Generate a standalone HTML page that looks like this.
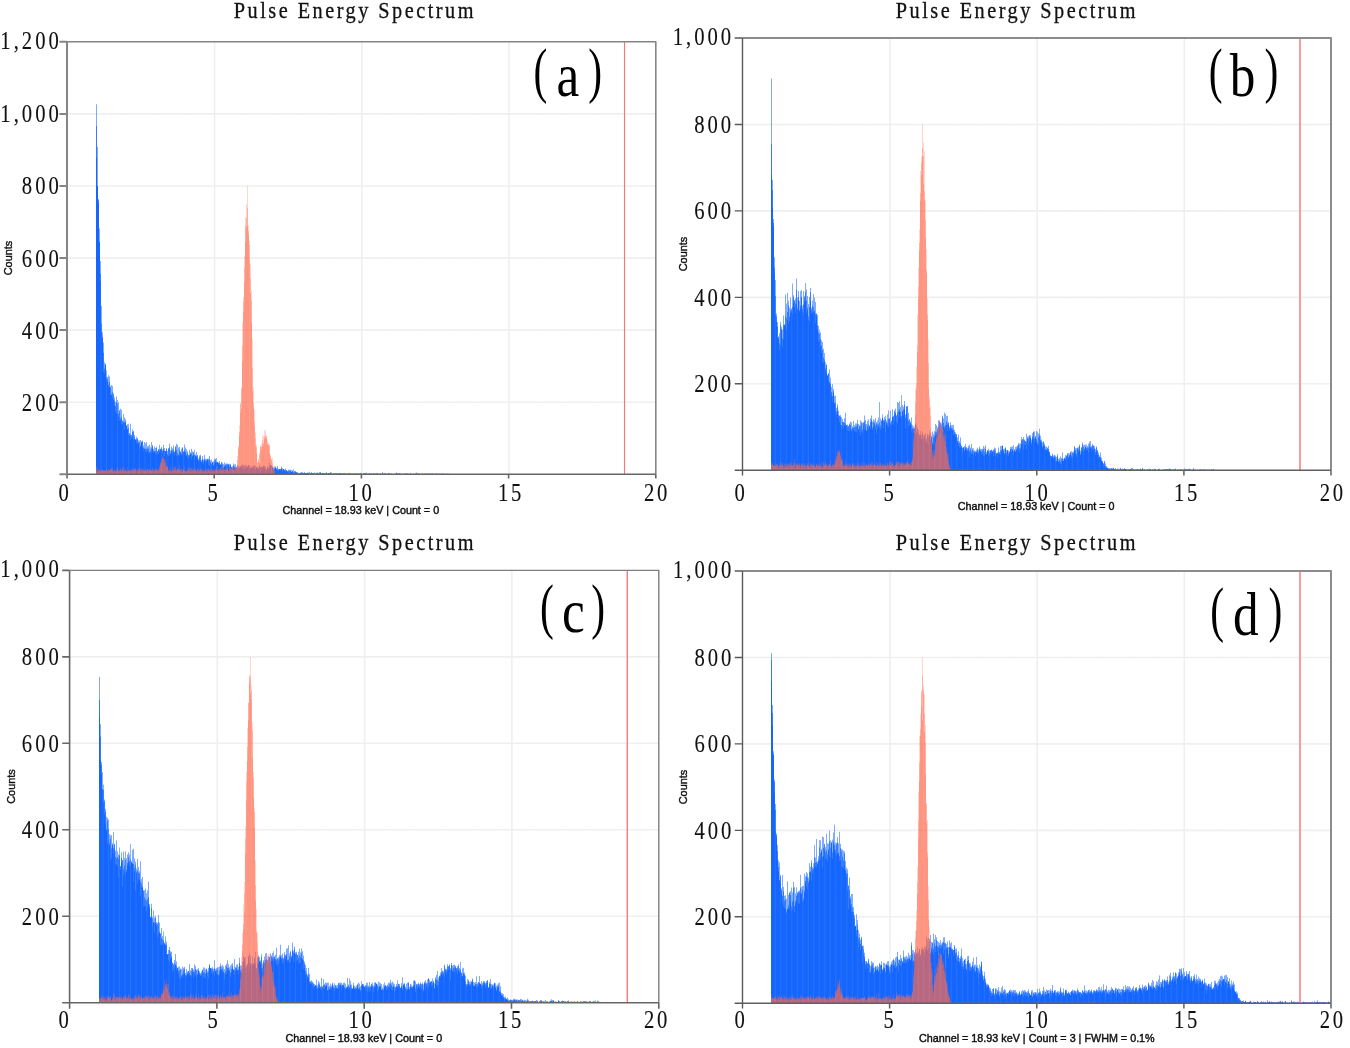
<!DOCTYPE html>
<html lang="en">
<head>
<meta charset="utf-8">
<title>Pulse Energy Spectrum</title>
<style>
html,body{margin:0;padding:0;background:#fff;}
body{width:1350px;height:1048px;overflow:hidden;}
svg{display:block;}
text{white-space:pre;}
</style>
</head>
<body>
<svg width="1350" height="1048" viewBox="0 0 1350 1048" role="img" aria-label="Pulse energy spectra, panels a to d">
<rect width="1350" height="1048" fill="#fff"/>
<g id="panel-a">
<path d="M214.6,41.8V474.3M361.8,41.8V474.3M509.0,41.8V474.3M67.0,402.2H655.8M67.0,330.1H655.8M67.0,258.1H655.8M67.0,186.0H655.8M67.0,113.9H655.8" stroke="#efefef" stroke-width="1.6" fill="none"/>
<path d="M96,474.3V104.2h1V146.7h1V198.9h1V228.5h1V260.9h1V306h1V332.3h1V342.4h1V362.6h1V363.7h1V370.5h1V377h1V375.2h1V376.6h1V386h1V384.9h1V386h1V393.2h1V397.5h1V401.9h1V396.5h1V400.1h1V402.2h1V410.1h1V408.7h1V409.8h1V420.2h1V414.1h1V417.4h1V419.2h1V424.9h1V424.2h1V423.8h1V433.2h1V423.8h1V434.7h1V429.6h1V431h1V435h1V439h1V436.8h1V437.9h1V440.4h2V440.1h1V441.5h1V440.4h1V445.5h1V441.9h1V443.3h1V441.9h1V446.2h1V445.8h1V444.7h1V447.3h1V441.9h1V445.1h1V448.7h1V446.5h1V448h1V446.5h1V451.2h1V449.1h1V444.7h1V448.7h1V446.9h1V449.4h1V444.7h1V448h1V450.9h1V448h1V450.9h1V448.4h1V443.7h1V450.2h1V446.5h1V448h1V445.5h1V451.6h1V446.2h1V443.7h1V444.7h1V447.6h1V446.9h1V451.2h1V448.7h1V447.3h1V451.2h1V444.4h1V447.6h1V449.1h1V451.2h1V454.8h1V449.8h1V452.3h1V448.7h1V451.2h1V452h1V449.8h1V454.5h1V452h1V455.2h1V458.4h1V455.6h1V454.8h1V460.2h1V455.9h1V459.5h1V454.8h1V458.8h3V458.4h1V455.9h1V459.9h1V459.5h1V462h1V461.3h1V458.8h2V458.1h1V462h1V462.8h1V461h1V464.2h1V461.7h1V462.8h1V464.2h1V462.4h1V463.8h1V463.5h2V463.8h2V464.6h1V467.1h1V466h1V463.5h1V464.6h1V464.2h1V466.7h1V464.9h1V465.3h1V466.4h1V466h1V465.6h1V463.8h1V464.9h1V465.3h1V464.9h1V465.3h1V466h1V464.9h2V467.8h1V466.7h1V466.4h1V465.3h2V465.6h1V467.1h1V466.4h1V467.8h1V464.9h1V467.1h1V466.7h1V466.4h1V465.6h1V466h1V466.4h1V468.9h1V466h1V467.5h1V463.1h1V464.9h1V465.3h1V466.4h1V467.8h1V466.4h2V467.8h1V466h1V468.9h3V466.4h1V468.2h1V468.9h1V469.6h1V468.5h1V470.3h1V470.7h1V469.6h1V470.3h1V469.6h1V470.3h2V469.6h1V471.1h1V471.4h1V472.1h2V472.9h2V472.5h2V472.1h1V472.9h1V472.1h1V472.9h2V472.5h2V471.8h1V472.9h1V472.1h1V472.9h2V472.5h1V473.2h1V472.5h2V472.9h1V472.1h2V473.2h2V472.9h3V472.1h1V473.2h2V472.9h1V472.1h1V472.5h1V473.6h1V473.2h1V472.9h2V473.2h3V472.9h2V473.2h1V473.6h1V473.2h1V472.9h1V473.6h2V473.2h4V473.6h1V473.2h2V473.6h2V473.2h1V473.6h1V473.2h1V473.6h1V473.2h1V473.6h1V473.9h1V473.2h1V472.9h2V472.5h1V473.6h1V473.2h1V472.9h1V473.6h2V473.9h1V473.6h3V472.9h1V473.6h2V473.9h1V473.2h1V473.9h1V472.1h1V473.6h1V473.2h1V472.9h1V473.9h1V473.6h1V473.2h1V472.9h1V473.9h1V473.2h1V473.9h3V473.2h1V472.5h1V473.2h1V473.6h1V473.2h1V473.6h1V473.9h3V473.6h2V472.9h1V473.2h1V473.9h2V473.2h1V473.9h2V473.6h1V473.9h1V473.6h1V472.5h1V473.2h2V473.6h1V474.3h1V473.9h3V473.2h1V473.9h1V473.2h1V473.9h1V473.6h4V473.2h1V473.9h2V473.2h1V473.6h1V473.9h1V473.6h1V473.9h2V473.6h3V473.9h3V473.6h1V473.9h1V474.3Z" fill="#1466ff" fill-opacity="0.550"/>
<path d="M96,474.3V126.1h1V186h1V200.6h1V241.8h1V273.5h1V323.6h1V337.3h1V352.7h1V368.7h1V364.4h1V377h1V379.2h1V384.4h1V382h1V387.4h1V394.1h1V391.8h1V394.8h1V400.8h1V406.2h1V402.4h1V403.7h1V413.8h1V411.2h1V418.4h1V416.8h1V421h1V421.7h1V422h1V421.3h1V426.2h1V429.2h1V427.6h1V433.6h1V435h1V435.4h1V432.1h1V431.6h1V436.8h1V439.7h1V439.2h1V439.3h1V442.4h1V442.2h1V445.5h1V442.4h1V441.5h1V447.8h1V448.4h2V448.9h1V448.4h2V452h1V450.5h1V448.5h1V446.2h1V451.1h1V451.2h1V450.9h1V448h1V451.2h1V449.4h1V450.3h1V449.1h1V447.8h1V450.9h1V448.7h1V450.9h2V448.9h1V454.5h1V448.4h1V447.4h1V453.4h1V450.2h2V449.4h1V452h1V447.3h1V450h1V452.7h1V454.5h1V450.3h1V452h1V452.9h1V448h1V451.6h1V450.3h1V451.6h1V454.8h1V452.7h1V455.2h1V455h1V453.4h2V455.6h1V452.7h1V455h1V455.6h1V456.6h1V455.6h1V460.2h1V457.2h1V456.6h1V461.7h1V459.2h1V461.7h1V459.3h1V460.2h1V460.8h1V459.2h1V460.6h1V459.5h1V462.4h1V463.8h1V462.4h1V464.9h1V461.5h1V459.9h1V461.7h1V462h1V462.8h1V463.1h1V464.6h1V462.8h1V464.2h1V467.5h1V465.5h1V465.3h1V464.6h1V464.2h1V464.6h1V466.6h1V464.6h1V467.1h1V468h1V465.6h1V467.3h1V467.8h1V467.5h1V468.2h1V467.1h1V467.8h1V466.4h1V467.5h1V465.8h1V465.6h1V466.7h1V467.8h1V467.5h1V467.6h1V465.3h1V465.5h1V467.8h1V467.5h2V467.1h1V466.4h1V469.3h1V467.8h1V468.2h2V466.6h1V467.1h1V466.7h1V468h1V466.4h1V466.7h1V467.8h1V470h1V466.9h1V467.8h1V466.6h1V465.3h1V465.6h1V467.6h1V468.9h1V468.7h1V467.8h1V469.3h1V468.5h1V469.6h1V469.3h1V468.9h1V468.2h1V469.6h1V468.9h1V470.3h1V470.2h1V470.3h1V471.2h1V470.7h1V470.3h1V471.1h1V472.1h1V470.9h1V472.1h1V472.5h1V471.6h1V472.5h1V473h1V473.2h1V473.6h1V472.9h1V472.5h1V473.4h1V472.9h1V473.2h1V472.9h2V473h1V473.2h1V473.9h1V473.4h1V473.2h3V473.6h1V473.8h1V473.6h3V473.9h1V472.7h1V473.2h2V473.6h1V473.2h1V473.9h1V473.2h1V473.9h1V473.2h2V473.6h2V473.9h1V473.6h2V473.9h1V473.2h1V473.8h1V473.6h2V473.4h1V473.9h1V473.6h1V473.8h1V473.2h1V474.1h1V473.9h2V473.6h1V473.9h1V473.6h1V473.9h3V473.6h1V473.8h1V473.6h1V474.3h1V474.1h1V473.9h1V473.6h2V474.3h1V473.4h1V473.2h2V473.9h3V473.6h1V473.9h1V473.6h1V473.9h1V473.8h1V473.6h1V474.1h1V473.9h1V473.6h1V473.9h2V473.6h1V473.9h1V473.6h1V474.1h1V473.6h1V473.9h1V474.3h1V473.9h1V473.8h1V473.6h1V473.9h2V474.3h1V473.9h1V474.3h1V473.9h1V473.2h1V473.9h1V473.8h1V473.6h1V473.8h1V474.3h1V473.9h4V473.8h1V473.9h1V474.3h1V473.9h3V474.3h1V473.9h2V473.6h1V473.8h1V473.9h2V474.3h3V473.9h1V474.3h1V473.9h2V473.6h1V474.3h1V474.1h1V474.3h1V473.9h1V473.8h1V474.3h3V473.9h2V474.3h1V474.1h1V473.9h2V473.6h1V473.9h2V474.3h1V473.9h4V474.3Z" fill="#1466ff" fill-opacity="0.700"/>
<path d="M96,474.3V157.9h1V186.7h1V203.3h1V242.6h1V281.5h1V332.3h1V338.4h1V372.3h1V373.7h1V365.8h1V379.2h1V382h1V387.1h1V387.4h1V395h1V395.4h1V397.9h1V400.4h1V405.8h1V411.2h1V414.1h1V412.7h1V417h1V420.6h2V424.6h1V424.2h1V423.1h1V430.3h1V422.8h1V426.4h1V429.2h1V435h1V436.1h1V440.4h1V437.5h1V438.3h1V439.7h1V439h1V440.1h1V442.9h1V443.7h1V444h1V448.7h1V446.5h1V442.6h1V447.6h1V450.5h1V449.1h1V450.9h1V452.3h1V451.2h1V453.4h2V451.2h1V453h1V448.4h1V452.7h1V452h1V453.8h1V453.4h1V454.5h1V454.1h1V452h1V450.2h2V453h1V450.2h1V455.9h1V452.3h1V450.9h1V454.8h1V456.6h1V455.6h1V454.1h1V452h1V453h1V452.3h1V455.6h1V450.5h1V455.6h1V456.3h1V455.6h2V453.4h1V455.6h1V454.8h1V452h1V452.3h1V455.2h1V456.6h1V457h1V458.4h1V456.6h1V454.5h1V459.2h1V456.6h1V455.2h1V459.2h1V455.9h1V457.4h1V459.2h1V461.3h1V459.9h1V460.2h1V462.4h1V459.5h1V464.2h1V459.9h1V462.4h1V461.3h1V459.9h1V464.9h1V466h1V463.1h1V466.4h1V462.4h1V466h1V463.8h1V462.4h2V463.1h1V463.5h1V464.9h3V466.4h1V468.2h1V466.7h1V466.4h1V467.5h1V465.6h2V469.6h1V465.6h1V467.5h1V468.9h1V467.1h1V468.5h1V470h1V467.8h1V469.6h1V468.5h2V467.5h1V467.8h1V468.9h1V469.6h1V468.5h1V469.3h1V467.8h2V469.3h1V468.5h1V468.2h1V470h1V468.5h3V469.6h1V468.2h1V470h1V470.3h1V468.9h1V467.8h1V470.3h1V468.2h1V467.5h1V468.9h1V469.3h1V470.3h1V470h1V468.9h1V470.3h1V465.3h1V466.7h1V468.2h1V470.7h1V469.3h1V467.8h1V469.6h1V470.3h1V471.4h1V469.6h1V471.1h1V469.3h1V471.4h1V469.3h1V470.7h1V472.5h1V471.4h2V472.5h1V472.9h1V471.8h1V472.1h1V471.8h1V473.2h1V472.9h1V471.8h1V472.9h1V473.6h1V473.9h2V473.2h1V472.9h1V473.9h1V473.2h1V473.6h1V472.9h1V473.6h2V473.2h1V473.9h1V473.6h1V473.9h1V473.6h1V474.3h2V473.9h2V473.6h1V473.9h1V474.3h1V473.2h1V474.3h1V473.6h1V473.9h2V474.3h1V473.6h1V474.3h1V473.6h2V473.9h2V474.3h1V473.9h2V474.3h1V473.9h2V474.3h1V473.6h1V473.9h3V474.3h1V473.9h1V474.3h1V473.9h1V474.3h1V473.6h1V474.3h1V473.9h5V474.3h5V473.9h1V474.3h2V473.9h3V474.3h1V473.9h1V474.3h1V473.9h1V474.3h3V473.9h2V474.3h2V473.9h2V474.3h1V473.9h1V474.3h3V473.9h1V474.3h2V473.9h1V474.3h1V473.9h1V474.3h1V473.9h1V474.3h1V473.9h1V474.3h1V473.9h1V473.6h1V473.9h3V474.3h5V473.9h1V474.3h3V473.9h1V474.3h5V473.9h1V474.3h8V473.9h3V474.3h4V473.9h1V474.3h15V473.9h1V474.3h1V474.3Z" fill="#1466ff"/>
<path d="M96,474.3V466h1V468.2h2V469.6h2V469.3h2V470.3h1V470h1V470.3h1V468.9h1V470.7h1V469.3h1V470h1V467.5h1V468.5h1V467.8h1V470.3h1V470h1V470.3h1V468.9h1V467.1h1V468.2h1V470h1V467.8h1V469.3h1V468.2h1V467.1h1V469.3h1V468.9h1V470.7h1V467.1h1V470h1V469.6h1V469.3h1V469.6h1V467.8h1V468.9h2V467.8h1V470h1V468.9h1V467.8h1V468.2h1V467.8h1V468.5h1V468.9h2V469.3h1V468.9h1V470h1V468.9h1V469.3h1V468.5h1V469.6h1V470h1V467.5h1V468.9h1V469.6h1V468.5h2V468.9h1V469.6h1V465.6h1V462.8h1V460.6h1V457.4h1V453h1V458.8h1V460.6h1V465.6h1V466.7h1V469.6h1V468.9h1V466.4h1V470.7h1V467.5h1V467.8h1V467.1h1V466h1V470h1V468.5h1V467.8h1V465.3h1V469.3h1V468.2h1V471.4h1V469.3h1V467.1h1V470.7h2V468.9h1V467.8h1V468.9h1V467.8h1V468.2h1V468.9h1V468.2h1V469.6h1V468.2h1V470.3h1V468.9h1V468.5h1V470h1V468.5h1V467.8h1V468.5h1V470h2V468.5h1V469.6h1V468.5h1V467.8h1V469.6h1V468.9h1V467.5h1V469.6h1V469.3h1V470h1V468.9h1V467.1h1V466h1V468.9h1V468.5h1V468.2h1V466.4h2V467.5h1V468.9h2V466.7h1V468.5h1V470.3h1V467.8h1V467.1h1V467.5h1V467.8h1V468.2h2V467.1h1V466.4h1V455.9h1V446.2h1V425.3h1V403.3h1V387.8h1V322.6h1V297.3h1V256.2h1V217.3h1V204.3h1V186h1V225.3h1V240.8h1V264.2h1V290.5h1V339.1h1V387.4h1V410.1h1V432.5h1V445.1h1V461.7h1V459.2h1V452.7h1V445.8h1V444h1V435.7h2V430h1V431h1V435.4h1V439.7h1V442.2h1V444.4h1V454.8h1V458.4h1V458.1h1V465.6h1V468.5h1V473.9h1V473.6h2V473.9h1V473.6h2V473.9h5V473.6h2V473.9h1V473.2h1V473.9h1V473.6h1V473.9h2V473.2h1V473.6h1V473.9h1V472.9h1V473.9h3V473.6h1V472.9h1V473.9h3V473.2h1V473.9h1V473.2h1V473.6h2V473.9h2V473.6h1V473.2h1V473.6h4V473.2h1V473.9h3V473.6h1V474.3h1V473.6h3V473.9h1V474.3h1V473.6h2V473.9h1V473.6h2V472.9h1V473.6h1V473.9h4V473.2h1V473.9h1V474.3h1V473.9h1V473.6h2V474.3h1V473.9h2V472.5h1V473.6h1V474.3h1V473.9h1V473.6h1V473.9h2V473.6h2V473.2h1V473.9h1V473.2h1V473.9h3V473.6h1V473.9h2V474.3h1V473.2h1V473.9h1V473.2h1V474.3h1V473.9h1V474.3h1V473.6h1V473.9h1V473.6h1V473.2h1V473.6h2V473.9h1V473.6h3V473.9h1V473.6h2V473.2h1V473.6h1V473.9h8V472.9h1V473.2h1V473.6h6V473.2h1V473.9h1V473.6h1V472.9h1V472.5h1V473.6h1V473.9h2V473.6h2V472.9h1V473.9h1V473.6h1V473.9h2V473.2h1V472.9h1V473.2h1V473.9h1V473.2h1V474.3h1V473.2h1V473.9h1V473.6h1V473.9h2V473.6h2V473.2h1V473.9h1V473.2h1V473.6h3V473.9h2V473.6h3V473.2h1V473.6h1V473.9h1V473.2h1V473.6h1V474.3Z" fill="rgb(255,104,76)" fill-opacity="0.280"/>
<path d="M96,474.3V469.3h1V471.4h1V470.9h1V470.3h1V471.4h1V471.1h1V470h1V470.7h1V470.3h1V470.7h1V469.1h1V471.1h1V469.8h1V470.3h1V468.9h1V469.6h2V471.4h1V470.3h1V470.7h2V470.3h1V470.7h1V470.3h1V469.3h1V470.9h1V470h1V468.9h1V470.7h1V470h1V470.9h1V470.7h1V471.1h1V470.3h3V470h1V470.3h1V469.6h1V468.9h1V471.1h1V470.3h1V469.3h1V469.6h1V471.1h1V470.2h1V469.3h1V470.3h1V471.1h1V470.3h2V469.3h1V470h1V470.3h1V470h1V470.5h1V470.3h1V469.4h1V470.7h1V469.6h1V470.3h2V469.6h1V467.5h1V462.8h1V462h1V458.1h1V458.4h1V460.1h1V462h1V466.2h1V467.1h1V470.3h2V470h1V472.1h1V471.1h1V470h1V468.2h1V468.9h1V470.3h1V468.5h1V469.6h1V469.3h1V470h1V469.6h1V471.4h1V469.3h1V469.6h1V471.1h1V470.9h1V469.6h1V468.5h1V471.2h1V468.5h1V469.3h1V470h1V468.5h1V470.3h1V469.6h1V471.1h1V469.3h1V468.5h1V470.9h1V468.9h1V470.9h1V470.7h2V470.9h1V470h1V470.7h1V469.6h2V470h1V470.7h1V470.3h1V470.7h1V470h1V470.5h1V469.6h1V469.3h1V470h2V469.6h1V468.2h1V470.3h1V469.1h1V469.6h1V469.8h1V469.6h1V468.2h1V469.6h1V470.7h1V468.2h1V467.8h1V468.5h1V468.2h1V469.3h1V470h1V467.8h1V467.1h1V459.9h1V446.9h1V432h1V403.7h1V388.2h1V345.8h1V301.3h1V267.6h1V226h1V218.4h1V207.8h1V231h1V245.3h1V278.2h1V301.3h1V368.2h1V402.9h1V421.5h1V437.9h1V447.3h1V462.6h1V459.5h1V454.7h1V446.5h1V446.9h1V440.4h1V442.9h1V436.5h1V435.7h2V442.9h1V444.7h1V445.5h1V455.9h1V459.5h1V463.3h1V469.3h1V471.1h1V474.3h1V473.9h1V474.1h1V474.3h1V474.1h1V473.9h1V474.3h1V474.1h1V473.9h2V474.3h1V473.9h3V473.6h1V473.9h1V473.6h1V474.1h1V473.9h1V473.6h1V473.9h1V474.3h1V474.1h1V474.3h2V473.9h2V474.1h1V474.3h2V474.1h1V473.9h1V474.1h1V474.3h1V473.9h1V473.8h1V474.3h1V474.1h1V474.3h1V473.9h1V473.8h1V473.6h1V473.9h1V474.3h1V473.9h2V474.3h2V473.6h1V474.3h1V474.1h1V473.9h1V474.3h1V473.9h1V474.3h1V474.1h1V474.3h1V474.1h1V473.6h1V473.9h1V473.8h1V473.9h1V474.1h1V474.3h2V473.9h1V473.2h1V473.9h1V474.3h2V473.9h2V474.3h1V474.1h1V473.9h1V473.8h1V473.9h1V474.3h1V473.9h1V473.6h1V474.3h2V473.9h1V473.8h1V473.9h1V474.1h1V473.9h2V474.1h1V473.9h1V474.3h1V473.9h2V474.3h2V474.1h1V473.9h1V474.3h1V473.9h1V474.3h1V473.8h1V474.3h1V473.6h1V474.1h1V473.9h1V473.8h1V473.9h2V474.3h1V473.6h1V474.3h2V473.9h2V474.3h1V474.1h1V474.3h1V473.9h1V474.3h2V474.1h1V473.9h1V474.3h1V473.9h1V474.3h1V474.1h1V473.9h1V473.6h1V473.9h2V474.3h1V473.9h2V473.6h2V473.9h1V474.1h1V474.3h1V473.9h1V474.3h1V473.9h7V473.6h1V473.9h1V474.3h1V473.9h1V474.3h1V473.9h1V474.1h1V473.9h1V474.3h2V473.9h2V474.3h2V473.9h2V473.6h1V474.3h1V473.9h5V474.3h1V473.9h4V474.3Z" fill="rgb(255,104,76)" fill-opacity="0.333"/>
<path d="M96,474.3V471.1h1V471.4h1V471.1h1V470.7h1V472.1h1V471.1h1V470.3h1V471.1h3V473.6h1V471.4h1V470.7h1V470.3h1V470h1V470.3h1V471.1h1V472.1h1V470.7h1V471.8h1V471.1h1V471.4h3V470h1V472.1h1V470.3h1V471.8h1V471.4h1V470.3h1V471.4h1V471.1h1V471.8h1V471.4h1V470.7h1V471.8h1V470.3h1V471.4h1V470.7h1V470h1V473.2h1V472.1h1V470.3h1V470h1V471.4h1V473.2h1V470.3h1V471.8h1V471.4h1V471.1h1V471.4h1V469.3h1V472.5h1V470.3h1V471.1h1V470.7h1V470.3h1V472.5h1V471.1h1V471.4h1V470.7h1V471.1h1V471.4h1V468.9h1V465.6h1V463.5h1V458.4h1V458.8h1V463.1h1V465.6h1V467.5h2V471.4h2V470h1V472.5h1V471.4h1V470.3h1V470.7h1V470h1V471.1h1V470h2V470.3h1V470.7h1V471.8h2V469.6h1V471.1h1V471.8h2V471.1h1V471.4h1V471.8h1V471.4h1V472.1h1V471.1h1V472.9h1V471.8h1V470.3h1V471.4h2V472.5h1V472.1h1V470.3h1V471.8h1V472.1h1V471.1h1V472.5h1V471.8h3V471.1h1V471.4h1V471.8h1V472.1h1V471.1h1V471.8h1V472.1h1V470.7h1V470.3h1V470.7h1V471.1h1V472.1h1V470h1V470.7h1V471.8h1V469.6h1V471.4h1V470h1V469.6h1V470h1V470.7h1V471.1h1V468.9h1V470.3h1V469.6h1V470.7h1V470.3h1V468.5h1V468.9h1V467.8h1V449.1h1V435.7h1V412.7h1V408.7h1V361.5h1V312.5h1V282.6h1V241.8h1V227.8h1V225.6h1V235.3h1V260.6h1V293.7h1V322.9h1V391h1V408.3h1V426.4h1V445.5h1V453.4h1V467.8h1V462.4h1V463.1h1V446.9h1V450.2h1V444.4h1V445.5h1V439h1V437.5h1V438.6h1V444.4h1V445.5h1V454.1h1V458.1h1V461h1V469.3h1V470.7h1V473.9h1V474.3h8V473.9h1V474.3h3V473.9h1V474.3h5V473.9h2V474.3h15V473.9h1V474.3h6V473.9h1V474.3h1V473.9h1V474.3h3V473.9h1V474.3h2V473.9h1V474.3h9V473.9h1V474.3h4V473.6h1V473.9h1V474.3h2V473.9h2V474.3h6V473.9h2V474.3h4V473.9h1V474.3h1V473.9h1V474.3h9V473.9h1V474.3h10V473.9h1V474.3h1V473.9h1V474.3h16V473.9h1V474.3h6V473.9h1V474.3h1V473.9h1V474.3h4V473.9h1V474.3h9V473.9h1V474.3h1V473.9h1V474.3h13V473.9h1V474.3h6V473.9h1V474.3h1V474.3Z" fill="rgb(255,104,76)" fill-opacity="0.375"/>
<path d="M101.0,42.8V473.8M106.5,42.8V473.8M112.0,42.8V473.8M117.5,42.8V473.8M123.0,42.8V473.8M128.5,42.8V473.8M134.0,42.8V473.8M139.5,42.8V473.8M145.0,42.8V473.8M150.5,42.8V473.8M156.0,42.8V473.8M161.5,42.8V473.8M167.0,42.8V473.8M172.5,42.8V473.8M178.0,42.8V473.8M183.5,42.8V473.8M189.0,42.8V473.8M194.5,42.8V473.8M200.0,42.8V473.8M205.5,42.8V473.8M211.0,42.8V473.8M216.5,42.8V473.8M222.0,42.8V473.8M227.5,42.8V473.8M233.0,42.8V473.8M238.5,42.8V473.8M244.0,42.8V473.8M249.5,42.8V473.8M255.0,42.8V473.8M260.5,42.8V473.8M266.0,42.8V473.8M271.5,42.8V473.8M277.0,42.8V473.8M282.5,42.8V473.8M288.0,42.8V473.8M293.5,42.8V473.8M299.0,42.8V473.8M304.5,42.8V473.8M310.0,42.8V473.8M315.5,42.8V473.8M321.0,42.8V473.8M326.5,42.8V473.8M332.0,42.8V473.8M337.5,42.8V473.8M343.0,42.8V473.8M348.5,42.8V473.8M354.0,42.8V473.8M359.5,42.8V473.8M365.0,42.8V473.8M370.5,42.8V473.8M376.0,42.8V473.8M381.5,42.8V473.8M387.0,42.8V473.8M392.5,42.8V473.8M398.0,42.8V473.8M403.5,42.8V473.8M409.0,42.8V473.8M414.5,42.8V473.8M420.0,42.8V473.8M425.5,42.8V473.8M431.0,42.8V473.8M436.5,42.8V473.8M442.0,42.8V473.8M447.5,42.8V473.8M453.0,42.8V473.8M458.5,42.8V473.8M464.0,42.8V473.8M469.5,42.8V473.8M475.0,42.8V473.8M480.5,42.8V473.8M486.0,42.8V473.8M491.5,42.8V473.8M497.0,42.8V473.8M502.5,42.8V473.8M508.0,42.8V473.8M513.5,42.8V473.8M519.0,42.8V473.8M524.5,42.8V473.8M530.0,42.8V473.8M535.5,42.8V473.8M541.0,42.8V473.8M546.5,42.8V473.8M552.0,42.8V473.8M557.5,42.8V473.8M563.0,42.8V473.8M568.5,42.8V473.8M574.0,42.8V473.8M579.5,42.8V473.8M585.0,42.8V473.8M590.5,42.8V473.8M596.0,42.8V473.8M601.5,42.8V473.8M607.0,42.8V473.8M612.5,42.8V473.8M618.0,42.8V473.8M623.5,42.8V473.8M629.0,42.8V473.8M634.5,42.8V473.8M640.0,42.8V473.8M645.5,42.8V473.8M651.0,42.8V473.8" stroke="#fff" stroke-opacity="0.085" stroke-width="1" fill="none"/>
<line x1="624.50" y1="41.8" x2="624.50" y2="474.3" stroke="#ff7272" stroke-width="1.1"/>
<path d="M67.0,41.8H655.8V474.3" stroke="#848484" stroke-width="1.6" fill="none" stroke-linejoin="round"/>
<path d="M67.0,41.8V478.5M59.4,474.3H67.0M59.4,402.2H67.0M59.4,330.1H67.0M59.4,258.1H67.0M59.4,186.0H67.0M59.4,113.9H67.0M59.4,41.8H67.0" stroke="#858585" stroke-width="2.0" fill="none"/>
<path d="M67.0,474.3H655.8M214.2,474.3V478.5M361.4,474.3V478.5M508.6,474.3V478.5M655.8,474.3V478.5" stroke="#666666" stroke-width="1.6" fill="none"/>
<text transform="translate(61.80,410.72) scale(0.8000,1)" font-family="'Liberation Serif', 'DejaVu Serif', serif" font-size="25.80" text-anchor="end" letter-spacing="3.75" fill="#111" stroke="#111" stroke-width="0.12">200</text>
<text transform="translate(61.80,338.63) scale(0.8000,1)" font-family="'Liberation Serif', 'DejaVu Serif', serif" font-size="25.80" text-anchor="end" letter-spacing="3.75" fill="#111" stroke="#111" stroke-width="0.12">400</text>
<text transform="translate(61.80,266.55) scale(0.8000,1)" font-family="'Liberation Serif', 'DejaVu Serif', serif" font-size="25.80" text-anchor="end" letter-spacing="3.75" fill="#111" stroke="#111" stroke-width="0.12">600</text>
<text transform="translate(61.80,194.47) scale(0.8000,1)" font-family="'Liberation Serif', 'DejaVu Serif', serif" font-size="25.80" text-anchor="end" letter-spacing="3.75" fill="#111" stroke="#111" stroke-width="0.12">800</text>
<text transform="translate(61.80,122.38) scale(0.8000,1)" font-family="'Liberation Serif', 'DejaVu Serif', serif" font-size="25.80" text-anchor="end" letter-spacing="3.75" fill="#111" stroke="#111" stroke-width="0.12">1,000</text>
<text transform="translate(61.80,48.80) scale(0.8000,1)" font-family="'Liberation Serif', 'DejaVu Serif', serif" font-size="25.80" text-anchor="end" letter-spacing="3.75" fill="#111" stroke="#111" stroke-width="0.12">1,200</text>
<text transform="translate(65.00,500.50) scale(0.8000,1)" font-family="'Liberation Serif', 'DejaVu Serif', serif" font-size="25.80" text-anchor="middle" letter-spacing="3.38" fill="#111" stroke="#111" stroke-width="0.12">0</text>
<text transform="translate(214.10,500.50) scale(0.8000,1)" font-family="'Liberation Serif', 'DejaVu Serif', serif" font-size="25.80" text-anchor="middle" letter-spacing="3.38" fill="#111" stroke="#111" stroke-width="0.12">5</text>
<text transform="translate(361.50,500.50) scale(0.8000,1)" font-family="'Liberation Serif', 'DejaVu Serif', serif" font-size="25.80" text-anchor="middle" letter-spacing="3.38" fill="#111" stroke="#111" stroke-width="0.12">10</text>
<text transform="translate(511.10,500.50) scale(0.8000,1)" font-family="'Liberation Serif', 'DejaVu Serif', serif" font-size="25.80" text-anchor="middle" letter-spacing="3.38" fill="#111" stroke="#111" stroke-width="0.12">15</text>
<text transform="translate(656.90,500.50) scale(0.8000,1)" font-family="'Liberation Serif', 'DejaVu Serif', serif" font-size="25.80" text-anchor="middle" letter-spacing="3.38" fill="#111" stroke="#111" stroke-width="0.12">20</text>
<text transform="translate(354.85,17.80) scale(0.9000,1)" font-family="'Liberation Serif', 'DejaVu Serif', serif" font-size="22.50" text-anchor="middle" letter-spacing="2.78" fill="#111" stroke="#111" stroke-width="0.3">Pulse Energy Spectrum</text>
<text class="panel-label" font-family="'Liberation Serif', 'DejaVu Serif', serif" font-size="61" fill="#000"><tspan x="533.49" y="90.60" textLength="13.81" lengthAdjust="spacingAndGlyphs">(</tspan><tspan x="556.52" y="95.60" textLength="22.75" lengthAdjust="spacingAndGlyphs">a</tspan><tspan x="588.19" y="90.60" textLength="13.81" lengthAdjust="spacingAndGlyphs">)</tspan></text>
<text transform="translate(282.50,513.80) scale(1.0000,1)" font-family="'Liberation Sans', 'DejaVu Sans', sans-serif" font-size="10.78" text-anchor="start" fill="#111" stroke="#111" stroke-width="0.42">Channel = 18.93 keV | Count = 0</text>
<text transform="translate(12.0,258.0) rotate(-90)" font-family="'Liberation Sans', 'DejaVu Sans', sans-serif" font-size="10.95" text-anchor="middle" fill="#111" stroke="#111" stroke-width="0.4">Counts</text>
</g>
<g id="panel-b">
<path d="M890.0,38.0V470.3M1037.2,38.0V470.3M1184.3,38.0V470.3M742.5,383.8H1331.0M742.5,297.4H1331.0M742.5,210.9H1331.0M742.5,124.5H1331.0" stroke="#efefef" stroke-width="1.6" fill="none"/>
<path d="M771,470.3V78.6h1V179.8h1V219.1h1V257.2h1V280.1h1V313.4h1V322h1V336.7h1V333.3h1V322h1V326.8h1V329.4h1V315.5h1V324.2h1V294.4h1V303.4h1V293.1h1V300.8h1V307.8h1V297.4h1V308.6h1V283.5h1V295.2h1V300h1V298.2h1V278.4h1V297.4h1V290.9h1V300.8h1V291.3h1V290h1V305.6h1V290.9h1V295.7h1V283.1h1V289.6h1V296.1h1V303.9h1V296.9h1V287.9h1V307.8h1V300.4h1V293.9h1V297.4h1V302.1h1V313.4h1V314.7h1V325.9h1V329.8h1V332.4h1V340.2h1V341.9h1V348.8h1V353.1h1V362.2h1V364.8h1V374.8h1V373h1V369.6h1V377.4h1V386.9h1V384.3h1V389h1V395.9h1V395.5h1V408h1V404.2h1V410.6h1V415.8h1V415h1V417.1h1V418.9h1V421.9h1V418h1V412.8h1V424.9h1V424.5h1V425.8h1V423.6h1V421.5h1V422.3h1V426.2h1V421h1V424.9h1V423.6h2V419.7h1V424h1V424.9h1V420.6h1V421.5h1V422.7h1V422.3h1V415.4h1V419.7h1V424h1V421h1V419.3h1V425.3h1V418.4h1V415.4h1V421.5h1V419.3h1V420.2h1V418h1V422.3h1V420.6h1V417.6h1V402h1V418.4h1V420.2h1V414.5h1V419.7h1V417.1h1V415.8h1V420.6h1V414.5h1V410.6h1V418h1V410.6h1V420.6h1V409.3h1V415.8h1V410.2h1V408.5h1V415.4h1V402h1V402.9h1V401.6h1V406.8h1V395.1h1V405h1V406.8h1V401.1h1V414.5h1V405.9h1V406.3h1V412.8h1V418.9h1V421.5h1V417.6h1V424.9h1V426.2h1V427.5h1V422.7h1V425.3h1V427.5h1V430.1h1V434.4h1V431h1V434.4h1V431.8h1V435.7h1V434h1V433.6h1V437.9h1V434h1V435.3h1V431.8h1V433.1h1V436.1h1V431.4h1V434h1V431h1V424h1V425.3h1V427.5h1V420.2h1V420.6h1V422.3h1V423.6h1V415.4h1V418.4h1V412.4h1V414.1h1V416.3h1V415.8h1V422.3h1V426.6h1V422.3h1V424.9h1V425.3h1V424.9h1V429.7h1V432.3h1V434h1V437.4h1V434.4h1V440.9h1V437.4h1V445.7h1V447.8h1V447h1V446.1h1V443.9h1V447h1V447.8h1V445.7h1V444.8h1V447.4h1V443.9h1V448.3h2V450.4h1V451.3h1V449.5h1V447.8h1V449.5h1V446.5h1V448.7h1V449.1h1V448.7h1V446.1h1V447.4h1V445.2h1V452.1h1V450.4h1V448.7h1V450.4h1V450h1V449.5h1V450.8h1V449.5h1V447.4h1V448.3h1V453h1V452.6h1V447.4h1V452.6h1V446.1h1V445.7h1V445.2h1V449.1h1V448.7h1V447.4h1V450h2V450.4h1V451.3h1V447h1V446.5h2V445.2h1V449.1h1V447h1V446.5h1V445.2h1V443.1h1V443.5h2V437h1V439.2h1V437h1V439.6h1V440.9h1V433.6h1V436.6h1V436.1h1V434.9h2V439.6h1V433.1h1V431.8h1V431.4h1V436.1h1V431h1V431.8h1V433.6h1V428.8h1V435.7h1V439.6h1V442.2h1V441.3h1V443.5h1V446.5h2V447.4h1V445.7h1V451.7h1V455.6h1V456h1V453.4h1V455.6h1V454.7h1V455.6h1V456.9h1V453.9h1V459.1h1V457.8h1V456.5h1V458.2h1V452.6h1V459.1h1V457.8h1V455.2h2V453h2V453.4h1V451.7h1V451.3h1V452.1h1V451.3h1V446.5h1V448.3h2V447.8h1V447h1V444.4h1V450.4h1V447h1V442.6h1V445.2h1V444.8h1V444.4h1V444.8h1V446.1h1V443.5h1V441.8h1V440.9h1V446.1h1V443.9h1V445.2h1V445.7h1V449.1h1V446.5h1V450h1V452.6h1V455.6h1V452.6h1V457.8h1V461.2h1V463h1V460.8h1V463.4h1V466.4h1V467.7h1V468.1h4V468.6h1V467.7h1V469h1V468.1h1V469.4h1V468.6h2V469.4h1V467.7h1V469.4h1V468.6h1V469h1V468.6h1V469h2V469.4h2V469h2V468.1h2V469h1V469.4h2V469h2V469.4h2V468.6h1V469.4h1V468.1h1V469.4h1V469h1V469.9h1V469.4h1V469h1V469.4h1V468.6h1V469h1V469.9h1V469h1V469.4h1V468.6h1V469h1V469.9h2V469h1V468.6h1V469.9h2V469.4h2V469h4V469.4h1V468.6h1V469h1V469.4h2V469h1V469.4h1V468.6h1V469.9h1V469.4h7V468.6h1V469h2V469.4h2V468.6h1V469.4h1V469.9h1V469.4h1V468.1h1V469.4h2V469.9h1V469.4h1V469.9h1V469.4h1V469h1V469.4h2V469h1V469.4h1V469h1V469.9h1V469.4h3V469.9h1V469h1V469.4h2V470.3Z" fill="#1466ff" fill-opacity="0.550"/>
<path d="M771,470.3V144.3h1V190.2h1V223h1V267.6h1V295.9h1V316.4h1V326.6h1V336.7h1V343.6h1V325.3h1V328.9h1V338.4h1V325h2V315.5h1V318.1h1V311.9h1V305.6h1V316.8h1V310.6h1V309.5h1V306.7h1V297.4h1V300.8h1V303.4h1V290h1V308.2h1V296.9h1V310.3h1V305.8h1V296.9h1V309.1h1V304.3h1V297.4h1V292.2h1V300.4h1V307.5h1V316.4h1V306.9h1V292.2h1V309.9h1V305.6h1V307.3h1V310.8h1V314h1V313.8h1V325.3h1V332.8h1V333.7h1V339.1h1V345.4h1V349.9h1V357.5h1V359.6h1V368.5h1V364.8h1V375.4h1V373.9h1V381.7h1V383.8h1V392.1h1V395.9h1V391.2h1V402.9h1V402.6h1V411.5h1V406.8h1V415h1V415.8h1V416.7h1V424.9h1V422.1h1V421.9h1V422.7h1V423.6h1V425.3h1V426.4h1V426.6h1V424.5h1V425.1h1V429.2h1V427.7h1V427.5h1V427.1h2V426.2h1V423.6h1V428.8h1V426.2h2V423.6h1V429.2h1V422.7h1V421.5h1V424.5h1V430.5h1V425.8h1V424.5h1V426.6h1V421.9h1V419.7h1V427.7h1V421.9h1V423.6h1V425.6h1V423.6h1V424.5h2V422.7h1V425.6h1V421h1V418h1V420.6h2V419.1h1V422.3h1V423.2h1V418.9h1V418.4h1V423.2h1V421.5h1V417.1h1V416.5h1V411.9h1V412.4h1V415.4h1V412.4h1V411.1h1V409.3h1V411.7h1V415.8h1V411.1h1V409.6h1V405h1V417.8h1V407.2h1V406.3h1V421h1V420.2h1V422.7h1V424.5h1V427.9h1V428.8h2V424.3h1V433.1h1V429.2h1V432.7h1V435.3h1V434.9h1V439.2h1V433.1h1V437.4h1V434.9h1V439.8h1V441.8h1V435.7h1V437.7h1V434h1V439.4h1V437h1V442.2h1V437.2h1V435.7h1V432.3h2V430.1h1V426.4h1V422.3h1V424.3h1V426.6h1V417.1h1V423h1V426.6h1V424.9h1V421.5h1V423.6h1V423.2h1V427.9h1V425.8h1V427.9h1V428.8h1V430.1h1V432.3h1V434h1V434.4h1V440.9h1V442.6h1V443.1h1V443.3h1V445.7h1V447.8h1V447.6h1V449.5h1V447.4h1V448.3h1V450.4h1V447.8h1V450.8h1V449.5h1V451.7h1V450h1V451.3h1V451.7h2V452.1h1V450.4h1V451.5h1V448.7h1V450.4h1V451.7h1V450.4h1V449.3h1V451.7h1V449.1h1V453.9h1V450.8h1V451.3h1V453h1V450.6h1V450.4h1V451.7h1V450.6h1V449.5h1V451.3h1V453.4h1V453h1V451.9h1V452.6h1V450.6h1V450h1V446.1h1V450.4h1V453.4h1V447.8h1V452.4h1V450h1V453.7h1V452.1h1V449.1h1V448.7h1V449.5h1V451.3h1V450.4h1V451.3h1V448.9h1V446.5h1V445h1V448.3h1V447.8h1V440.3h1V439.2h1V439.4h1V440.5h1V440.9h1V442.2h1V437.9h1V438.5h1V436.6h1V437.4h1V442.8h1V436.6h1V431.8h1V438.3h1V436.6h1V439.2h1V443.1h1V437.2h1V434.4h1V440h1V441.6h1V446.5h1V441.8h1V445.2h1V449.5h1V449.3h1V448.3h1V448.9h1V452.1h1V455.6h1V456.3h1V455.2h1V457.5h1V456.5h1V457.3h1V460.8h1V456h1V461.4h1V459.9h1V461.7h1V458.8h1V458.2h1V461h1V457.8h1V459.1h1V456h1V454.3h1V456.9h1V455.2h1V452.6h1V455.6h1V453h2V446.5h1V450.4h1V453.9h1V447.8h1V449.3h1V446.1h1V453.9h1V448h1V444.4h1V447h1V448.7h1V447h1V448.3h1V447.8h1V447.4h1V444.8h1V447h1V447.6h1V445.7h1V445.9h1V448.3h1V451.7h1V447.6h1V450.4h1V454.7h1V456.9h2V460.4h1V461.2h1V464h1V461.7h1V466h1V466.8h1V467.7h1V469h2V469.9h1V468.4h1V468.6h1V468.1h1V469.4h1V469h1V469.7h1V469.9h1V470.1h1V469.9h1V468.6h1V469.7h1V469.4h2V468.6h1V469h1V469.4h1V469.9h1V469.7h1V469.9h1V469h1V469.4h2V469.9h4V470.3h1V469.4h1V469.7h1V469h1V469.7h1V468.6h1V470.3h1V469.7h1V470.3h1V469.9h3V469.4h2V470.1h1V469.9h2V469.7h1V469.4h1V469.9h2V469h1V469.9h1V470.3h1V469.9h3V469.7h1V469.9h1V469.4h1V470.3h1V469.4h1V468.8h1V469.4h1V470.1h1V469.9h2V469.7h1V469h1V470.1h1V469.9h2V469.7h1V469.4h1V470.1h1V469.9h2V469.7h1V469.9h1V470.1h1V469.4h2V470.3h1V469.4h1V469.9h1V470.3h1V469.4h1V469.9h2V470.3h3V469.7h1V469.9h4V470.1h1V469.9h1V470.1h1V469.9h6V469.4h1V470.3Z" fill="#1466ff" fill-opacity="0.700"/>
<path d="M771,470.3V175h1V207.9h1V226.5h1V273.6h1V314.7h1V322h1V338h1V339.3h1V350.6h1V344.9h1V330.7h1V347.5h1V339.3h1V325.5h1V326.8h1V330.2h1V319.9h1V323.8h1V321.6h1V312.9h1V312.1h1V314.2h1V303h1V307.3h1V312.9h1V304.7h1V309.9h1V300.8h1V311.6h1V308.6h1V297.8h1V312.1h1V314.7h1V301.7h1V300.8h1V312.9h1V309.9h1V319.9h1V321.2h1V301.3h1V313.8h1V312.5h2V311.6h1V322.9h1V316.8h1V329.8h1V341.9h1V340.6h1V346.7h1V353.1h1V362.2h1V363.5h1V361.8h1V370.4h1V373h1V376.1h1V380.4h1V383.4h1V384.7h1V395.5h1V402h1V392.9h1V403.7h1V411.1h1V415h1V411.9h1V418.4h1V421.9h1V424.9h1V428.8h1V426.2h1V429.2h1V425.8h1V426.6h1V425.3h1V430.1h1V431h1V431.4h1V429.7h1V431.4h1V429.7h1V430.1h1V431.4h2V432.3h1V426.6h1V429.7h1V431.4h1V435.3h1V431.8h1V433.1h1V425.8h1V430.1h1V428.4h1V431h1V430.1h1V427.9h1V426.6h1V429.2h1V421.9h1V430.1h1V427.1h1V423.6h1V429.2h1V433.6h1V428.8h1V426.6h1V427.5h1V430.1h1V427.9h1V418h1V427.9h1V421.9h1V431.8h1V424.9h1V426.6h1V427.1h1V422.7h1V425.3h1V424.9h1V417.1h1V424.5h1V420.6h1V414.1h1V421.5h1V423.6h1V417.1h1V411.5h1V416.7h1V418.4h1V411.9h1V415.4h1V409.8h1V428.4h1V414.1h1V418.9h1V426.2h1V425.3h1V423.6h1V431.4h1V428.8h1V432.7h1V433.1h1V434h2V439.2h1V434.4h1V438.7h1V436.6h1V439.6h1V439.2h1V440.5h1V437h1V441.8h1V442.6h1V443.5h1V445.2h1V434.9h1V443.1h1V438.3h1V444.4h1V443.9h1V438.3h1V435.3h1V435.7h1V432.7h1V431.4h1V424.5h1V429.7h2V432.7h1V427.1h1V429.2h1V427.1h1V424.9h1V431h1V424.9h1V431h1V428.4h1V429.2h1V431h1V434.9h1V434.4h1V437h2V441.3h1V445.7h1V447.4h1V447.8h1V447.4h1V453h1V447.8h1V451.3h1V449.1h1V450.4h2V450.8h1V456.9h1V453h1V453.9h1V454.3h1V455.2h1V453h1V456h1V452.1h1V453.4h1V453.9h1V450.4h1V451.3h1V454.7h1V453.9h1V456h2V453.9h1V454.7h1V450.8h1V456h1V455.2h1V452.1h1V454.3h1V451.7h1V456h1V453h1V455.6h1V454.3h1V457.3h1V453.9h1V454.3h2V451.3h1V446.1h1V451.7h1V453.9h1V449.5h1V455.6h1V451.7h1V456h1V453h1V450.4h1V452.1h1V450.8h1V455.2h1V450.4h1V452.1h1V450.4h1V448.3h1V450.8h1V453h1V450.4h1V444.4h1V443.5h1V449.5h1V444.8h1V445.2h1V449.1h1V439.2h1V443.9h1V440.9h1V437.9h1V445.2h1V438.7h1V437.4h1V442.2h1V438.7h1V441.8h1V445.2h1V444.4h1V436.6h1V441.8h1V443.9h1V448.3h1V445.7h1V446.5h1V449.5h1V450.4h2V451.3h1V453.9h1V456h1V457.8h1V457.3h1V459.1h1V457.3h1V461.2h1V461.7h1V459.1h1V462.5h1V461.7h1V463.8h2V460.8h1V461.2h1V459.1h1V459.5h1V456.9h1V455.2h1V458.6h1V456.5h1V453.9h1V457.8h1V458.6h1V455.6h1V450.8h1V453.4h1V456.9h1V450h1V451.3h1V450.4h1V455.2h1V452.1h1V449.5h1V451.3h1V450.8h1V447.4h1V450h2V453h1V448.7h1V447.4h1V451.3h1V449.1h1V450.4h1V448.7h1V454.7h1V452.1h1V454.7h1V458.6h1V457.3h1V458.6h1V460.8h1V463h1V466.8h1V466h1V467.7h1V468.1h2V469h1V469.4h1V469.9h1V469.4h1V469.9h3V469h1V469.9h1V470.3h2V469.9h5V469.4h1V470.3h1V469.9h1V470.3h1V469.9h1V470.3h1V469.4h1V469.9h2V470.3h1V469.9h2V470.3h4V469.9h2V469h1V470.3h3V469.9h1V470.3h5V469.9h1V470.3h1V469.9h2V470.3h1V469.9h1V470.3h5V469.9h1V470.3h1V469.9h1V470.3h2V469.9h1V469.4h1V469.9h1V470.3h2V469.9h1V470.3h1V469.9h1V470.3h2V469.9h1V470.3h1V469.9h1V470.3h1V469.9h2V470.3h3V469.9h1V469.4h1V470.3h1V469.9h1V470.3h2V469.9h1V470.3h1V469.9h1V470.3h4V469.9h2V470.3h3V469.9h1V470.3h1V469.9h1V470.3h5V469.4h1V470.3Z" fill="#1466ff"/>
<path d="M771,470.3V462.1h1V463.4h1V465.1h2V463.4h1V464.2h1V463.8h1V465.1h2V462.1h1V464.2h1V462.5h1V464.7h1V463.4h2V465.1h1V464.2h1V463.4h1V464.7h1V462.1h1V464.7h2V462.1h1V459.1h1V463h1V463.8h2V464.2h1V463h1V464.7h1V463.4h1V463.8h1V464.2h1V463h1V464.7h1V464.2h1V463.4h1V462.1h1V465.5h1V463.4h2V464.7h1V465.1h1V464.2h1V466.4h1V463.4h1V464.7h1V464.2h1V464.7h1V463.8h1V463h1V466h1V461.2h1V464.7h1V462.1h1V463.8h1V465.1h2V463.8h1V460.8h1V466h1V464.2h2V462.5h1V458.6h1V456h1V450.4h1V450.8h1V449.5h1V454.7h1V458.6h1V459.1h1V465.5h1V464.2h1V462.1h1V463.8h2V463.4h1V463.8h2V465.5h1V463h1V463.4h1V465.5h1V464.7h2V463.4h1V463h1V465.5h1V464.7h1V465.1h1V462.1h1V464.2h1V462.5h1V464.2h1V464.7h1V465.1h1V464.7h1V463.4h1V463.8h1V461.7h1V462.1h1V464.2h1V463.8h1V464.7h1V462.1h1V464.2h1V463h1V463.8h1V463h1V465.5h1V463.8h2V465.1h1V464.2h1V466h1V462.5h1V464.2h1V460.8h1V462.1h1V462.5h1V461.7h1V464.2h1V464.7h1V463h1V461.2h1V462.1h1V461.2h1V462.1h1V463.4h1V461.7h1V463h1V462.5h1V463.4h1V462.1h1V462.5h1V459.9h1V462.1h1V463.8h1V462.5h1V461.2h1V457.3h1V438.3h1V424.9h1V388.2h1V366.5h1V314.7h1V267.6h1V229.5h1V170.7h1V156.5h1V124.5h1V142.6h1V151.3h1V200.1h1V249h1V298.2h1V339.3h1V396.8h1V406.3h1V432.7h1V450.4h1V450h1V452.1h1V441.3h1V436.1h1V427.9h1V427.1h1V420.6h1V423.2h1V421.5h1V426.2h1V429.7h1V433.1h1V434.9h1V447.8h1V451.7h1V453.9h1V466h1V468.6h1V469.9h1V468.6h1V469.9h1V470.3h1V469.4h1V469.9h3V469.4h1V469h1V469.9h2V469h1V469.9h1V469.4h3V469.9h1V469.4h1V469h1V470.3h1V469.4h1V469h1V469.4h1V469.9h2V469.4h2V469.9h1V468.6h1V469.4h1V469.9h2V469.4h1V469h1V469.9h1V470.3h1V469.9h1V469.4h1V469.9h2V469.4h2V468.6h1V469.4h3V469h1V469.9h1V469.4h1V469h1V469.9h3V469.4h2V469.9h2V469.4h1V469.9h1V469.4h3V469h1V469.9h3V469.4h2V469.9h3V469.4h1V469.9h1V469.4h1V469h1V469.9h1V469.4h3V470.3h1V469h1V469.4h1V468.6h1V469.4h1V469.9h2V469.4h1V469h1V469.4h1V469.9h1V469.4h1V469.9h1V470.3h1V469.4h1V469.9h1V469.4h3V469h1V469.4h1V469.9h3V469.4h1V469.9h1V469h1V469.9h3V469.4h1V469.9h3V470.3h1V469.4h2V469.9h2V469.4h2V469.9h2V469.4h1V469.9h1V469.4h2V469h1V469.4h1V470.3h1V469.9h2V469.4h1V470.3h1V469.9h2V469.4h2V469.9h1V469h1V469.9h1V469.4h2V470.3h1V469h2V469.9h1V469.4h1V469.9h2V469h1V469.9h1V469.4h3V469.9h3V469h1V469.9h4V469.4h1V469.9h2V469.4h1V469.9h1V469h1V469.9h1V469.4h3V469.9h1V470.3Z" fill="rgb(255,104,76)" fill-opacity="0.280"/>
<path d="M771,470.3V465.1h1V463.8h1V466h1V465.1h1V466h1V464.2h1V465.5h1V466.4h1V465.5h1V463.8h1V465.5h1V463.2h1V466.4h1V464.7h1V466.4h2V464.5h1V463.8h1V465.5h1V463h1V464.7h1V465.8h1V464.2h1V463.8h1V467.3h1V464.7h2V465.5h1V464.2h1V467.3h1V463.8h1V465.8h1V465.1h2V466h2V464.9h1V465.1h1V466.4h1V465.3h1V463.8h1V465.3h1V465.5h2V466.8h1V464.2h1V465.8h1V465.5h3V466h1V466.8h1V463.8h1V465.1h1V463.6h1V465.1h1V466h2V464.2h1V464.7h1V466.4h1V465.5h1V464.7h1V465.1h1V461h1V457.8h1V453.4h1V451.7h2V455.8h1V460.4h1V461.4h1V466h1V464.7h1V465.1h1V466h1V466.2h1V466h2V464.7h1V466.8h1V464.9h1V464.2h1V465.5h1V466.6h1V466h1V466.4h1V464.7h1V466.4h1V465.1h1V465.5h1V466h1V466.4h1V465.5h1V465.8h1V465.1h1V465.5h1V465.1h1V466h1V464h1V464.7h1V465.1h1V465.5h1V464.7h1V465.5h1V466h1V465.1h1V466.2h1V466h1V463.8h1V465.5h1V464.7h1V465.3h1V465.1h1V464.9h1V466.4h1V463.4h1V465.5h1V462.5h1V465.3h1V464.2h1V463h1V466h2V465.1h1V463.4h1V463h1V462.1h1V464.7h1V464h1V463h1V464.7h1V463.4h1V464.7h1V464h1V463.4h1V463h1V463.4h1V464.2h1V464.7h1V463h1V460.8h1V442.8h1V431h1V401.8h1V383.4h1V345.4h1V286.4h1V242.9h1V192.8h1V162.5h1V147.8h1V156h1V191h1V219.8h1V269.7h1V314.2h1V363.1h1V399.4h1V416.5h1V442.2h1V454.3h1V456h1V454.7h1V443.3h1V437.9h1V432.3h1V428.2h1V423.6h1V426.2h1V427.5h2V435.9h1V436.6h1V441.3h1V450.8h1V455.2h1V461.4h1V466.4h1V469.2h1V470.3h1V469.9h2V470.3h1V469.9h3V470.3h1V469.4h1V470.3h1V469.9h1V470.3h1V469.7h1V470.3h1V469.7h1V470.3h1V469.4h1V469.9h3V470.3h2V469.9h2V470.3h2V469.9h1V470.3h2V469.7h1V470.3h3V469.4h1V470.1h1V469.9h1V470.3h1V469.9h1V469.4h1V470.3h1V469.9h2V470.1h1V469.9h1V469.7h1V469.9h2V470.3h1V469.9h1V470.3h1V469.9h2V470.1h1V470.3h2V469.9h2V470.3h1V469.9h2V469.7h1V470.3h1V469.9h1V469.4h1V470.3h2V469.9h2V470.3h1V469.9h11V470.3h1V469.9h2V470.3h1V469.9h1V470.3h1V469.9h1V470.3h1V469.9h1V469.4h1V470.3h1V469.9h1V470.1h1V470.3h1V469.4h1V470.3h2V469.9h1V470.3h2V470.1h1V470.3h1V470.1h1V469.9h3V469.4h1V470.1h1V470.3h7V469.9h1V470.3h2V469.9h2V469.7h1V470.3h1V470.1h1V470.3h2V470.1h1V470.3h1V469.9h1V469.4h1V470.3h3V470.1h1V470.3h2V470.1h1V469.4h1V469.9h3V470.1h1V470.3h1V469.9h1V470.3h1V469h1V470.3h1V469.9h2V470.3h1V469.9h2V470.3h1V469.9h2V470.3h2V469.9h1V470.1h1V469.4h1V469.9h1V470.3h1V469.9h4V470.1h1V470.3h1V470.1h1V469.4h1V470.3h2V469.4h1V470.1h1V469.9h1V470.3Z" fill="rgb(255,104,76)" fill-opacity="0.333"/>
<path d="M771,470.3V465.1h1V464.7h1V466h1V466.4h1V466.8h1V466.4h1V465.5h1V467.7h2V466.8h1V466h1V466.4h1V467.7h1V467.3h1V468.1h1V466.8h1V467.3h2V466.4h1V465.1h1V468.1h1V466.8h1V466.4h1V465.5h1V468.1h1V465.1h1V466.8h1V466h1V465.5h1V468.1h1V465.5h1V468.1h1V467.3h1V466.4h1V469h1V466.8h1V466.4h1V466.8h1V467.7h1V467.3h1V465.5h1V468.1h1V465.5h1V467.3h2V465.1h1V466.4h1V468.1h1V466.4h1V468.1h1V467.7h2V466.4h1V465.5h1V466.8h1V466h1V467.3h1V466.8h1V464.2h1V468.6h1V466.8h1V465.5h1V468.1h1V465.5h1V463.8h1V460.8h1V456h1V451.7h1V453h1V459.1h1V460.8h1V464.7h1V466.4h1V465.5h1V466.4h1V466h1V466.4h2V467.7h1V466h1V468.1h1V465.5h1V466h1V466.4h1V468.6h1V466h1V468.1h1V466.4h1V467.3h1V466h1V466.8h3V467.3h1V466.8h1V465.1h1V466.4h1V465.1h1V467.7h1V465.5h2V467.3h1V468.1h1V465.1h1V466.4h1V466h1V465.1h1V466.8h2V466.4h1V466h1V466.4h2V466.8h1V466h1V466.4h1V465.1h1V467.3h1V465.1h1V466h1V465.1h1V464.2h1V466.8h1V466.4h2V464.7h1V465.5h1V466.4h2V465.5h1V463.8h1V466h1V464.7h1V465.5h1V465.1h1V463.8h1V465.1h1V463.8h1V464.7h1V466h1V465.1h1V461.2h1V449.5h1V432.3h1V415h1V389.9h1V352.3h1V299.1h1V251.1h1V201h1V175h1V156.5h1V183.7h1V200.5h1V237.7h1V273.2h1V320.3h1V388.6h1V408h1V428.4h1V443.5h1V457.8h1V458.2h1V457.3h1V450h1V439.6h1V436.6h1V431.4h1V433.6h1V429.7h1V427.9h1V434.4h1V438.3h1V440.9h1V445.2h1V453h1V457.8h1V463.4h1V466.4h1V469.4h1V470.3h12V469.9h1V470.3h3V469.9h1V470.3h1V469.9h1V470.3h4V469.9h1V470.3h9V469.4h1V470.3h9V469.9h2V470.3h13V469.9h1V470.3h11V469.9h1V470.3h10V469.9h1V470.3h2V469.9h1V470.3h3V469.9h1V470.3h5V469.4h1V470.3h25V469.9h1V470.3h15V469.4h1V470.3h5V469.9h1V470.3h3V469.9h2V470.3h5V469.9h1V470.3h7V469.9h1V470.3h6V469.9h1V470.3h5V470.3Z" fill="rgb(255,104,76)" fill-opacity="0.375"/>
<path d="M775.3,39.0V469.8M780.8,39.0V469.8M786.3,39.0V469.8M791.8,39.0V469.8M797.3,39.0V469.8M802.8,39.0V469.8M808.3,39.0V469.8M813.8,39.0V469.8M819.3,39.0V469.8M824.8,39.0V469.8M830.3,39.0V469.8M835.8,39.0V469.8M841.3,39.0V469.8M846.8,39.0V469.8M852.3,39.0V469.8M857.8,39.0V469.8M863.3,39.0V469.8M868.8,39.0V469.8M874.3,39.0V469.8M879.8,39.0V469.8M885.3,39.0V469.8M890.8,39.0V469.8M896.3,39.0V469.8M901.8,39.0V469.8M907.3,39.0V469.8M912.8,39.0V469.8M918.3,39.0V469.8M923.8,39.0V469.8M929.3,39.0V469.8M934.8,39.0V469.8M940.3,39.0V469.8M945.8,39.0V469.8M951.3,39.0V469.8M956.8,39.0V469.8M962.3,39.0V469.8M967.8,39.0V469.8M973.3,39.0V469.8M978.8,39.0V469.8M984.3,39.0V469.8M989.8,39.0V469.8M995.3,39.0V469.8M1000.8,39.0V469.8M1006.3,39.0V469.8M1011.8,39.0V469.8M1017.3,39.0V469.8M1022.8,39.0V469.8M1028.3,39.0V469.8M1033.8,39.0V469.8M1039.3,39.0V469.8M1044.8,39.0V469.8M1050.3,39.0V469.8M1055.8,39.0V469.8M1061.3,39.0V469.8M1066.8,39.0V469.8M1072.3,39.0V469.8M1077.8,39.0V469.8M1083.3,39.0V469.8M1088.8,39.0V469.8M1094.3,39.0V469.8M1099.8,39.0V469.8M1105.3,39.0V469.8M1110.8,39.0V469.8M1116.3,39.0V469.8M1121.8,39.0V469.8M1127.3,39.0V469.8M1132.8,39.0V469.8M1138.3,39.0V469.8M1143.8,39.0V469.8M1149.3,39.0V469.8M1154.8,39.0V469.8M1160.3,39.0V469.8M1165.8,39.0V469.8M1171.3,39.0V469.8M1176.8,39.0V469.8M1182.3,39.0V469.8M1187.8,39.0V469.8M1193.3,39.0V469.8M1198.8,39.0V469.8M1204.3,39.0V469.8M1209.8,39.0V469.8M1215.3,39.0V469.8M1220.8,39.0V469.8M1226.3,39.0V469.8M1231.8,39.0V469.8M1237.3,39.0V469.8M1242.8,39.0V469.8M1248.3,39.0V469.8M1253.8,39.0V469.8M1259.3,39.0V469.8M1264.8,39.0V469.8M1270.3,39.0V469.8M1275.8,39.0V469.8M1281.3,39.0V469.8M1286.8,39.0V469.8M1292.3,39.0V469.8M1297.8,39.0V469.8M1303.3,39.0V469.8M1308.8,39.0V469.8M1314.3,39.0V469.8M1319.8,39.0V469.8M1325.3,39.0V469.8" stroke="#fff" stroke-opacity="0.085" stroke-width="1" fill="none"/>
<line x1="1300.00" y1="38.0" x2="1300.00" y2="470.3" stroke="#ff9a9a" stroke-width="2.0"/>
<path d="M742.5,38.0H1331.0V470.3" stroke="#8c8c8c" stroke-width="2.0" fill="none" stroke-linejoin="round"/>
<path d="M742.5,38.0V475.6M734.7,470.3H742.5M734.7,383.8H742.5M734.7,297.4H742.5M734.7,210.9H742.5M734.7,124.5H742.5M734.7,38.0H742.5" stroke="#5a5a5a" stroke-width="1.4" fill="none"/>
<path d="M742.5,470.3H1331.0M889.6,470.3V475.6M1036.8,470.3V475.6M1183.9,470.3V475.6M1331.0,470.3V475.6" stroke="#606060" stroke-width="1.5" fill="none"/>
<text transform="translate(734.10,392.34) scale(0.8000,1)" font-family="'Liberation Serif', 'DejaVu Serif', serif" font-size="25.80" text-anchor="end" letter-spacing="3.75" fill="#111" stroke="#111" stroke-width="0.12">200</text>
<text transform="translate(734.10,305.88) scale(0.8000,1)" font-family="'Liberation Serif', 'DejaVu Serif', serif" font-size="25.80" text-anchor="end" letter-spacing="3.75" fill="#111" stroke="#111" stroke-width="0.12">400</text>
<text transform="translate(734.10,219.42) scale(0.8000,1)" font-family="'Liberation Serif', 'DejaVu Serif', serif" font-size="25.80" text-anchor="end" letter-spacing="3.75" fill="#111" stroke="#111" stroke-width="0.12">600</text>
<text transform="translate(734.10,132.96) scale(0.8000,1)" font-family="'Liberation Serif', 'DejaVu Serif', serif" font-size="25.80" text-anchor="end" letter-spacing="3.75" fill="#111" stroke="#111" stroke-width="0.12">800</text>
<text transform="translate(734.10,45.00) scale(0.8000,1)" font-family="'Liberation Serif', 'DejaVu Serif', serif" font-size="25.80" text-anchor="end" letter-spacing="3.75" fill="#111" stroke="#111" stroke-width="0.12">1,000</text>
<text transform="translate(740.90,500.50) scale(0.8000,1)" font-family="'Liberation Serif', 'DejaVu Serif', serif" font-size="25.80" text-anchor="middle" letter-spacing="3.38" fill="#111" stroke="#111" stroke-width="0.12">0</text>
<text transform="translate(890.00,500.50) scale(0.8000,1)" font-family="'Liberation Serif', 'DejaVu Serif', serif" font-size="25.80" text-anchor="middle" letter-spacing="3.38" fill="#111" stroke="#111" stroke-width="0.12">5</text>
<text transform="translate(1037.40,500.50) scale(0.8000,1)" font-family="'Liberation Serif', 'DejaVu Serif', serif" font-size="25.80" text-anchor="middle" letter-spacing="3.38" fill="#111" stroke="#111" stroke-width="0.12">10</text>
<text transform="translate(1187.00,500.50) scale(0.8000,1)" font-family="'Liberation Serif', 'DejaVu Serif', serif" font-size="25.80" text-anchor="middle" letter-spacing="3.38" fill="#111" stroke="#111" stroke-width="0.12">15</text>
<text transform="translate(1332.80,500.50) scale(0.8000,1)" font-family="'Liberation Serif', 'DejaVu Serif', serif" font-size="25.80" text-anchor="middle" letter-spacing="3.38" fill="#111" stroke="#111" stroke-width="0.12">20</text>
<text transform="translate(1016.85,17.80) scale(0.9000,1)" font-family="'Liberation Serif', 'DejaVu Serif', serif" font-size="22.50" text-anchor="middle" letter-spacing="2.78" fill="#111" stroke="#111" stroke-width="0.3">Pulse Energy Spectrum</text>
<text class="panel-label" font-family="'Liberation Serif', 'DejaVu Serif', serif" font-size="61" fill="#000"><tspan x="1208.69" y="90.60" textLength="13.81" lengthAdjust="spacingAndGlyphs">(</tspan><tspan x="1229.79" y="95.60" textLength="25.62" lengthAdjust="spacingAndGlyphs">b</tspan><tspan x="1264.59" y="90.60" textLength="13.81" lengthAdjust="spacingAndGlyphs">)</tspan></text>
<text transform="translate(957.80,509.80) scale(1.0000,1)" font-family="'Liberation Sans', 'DejaVu Sans', sans-serif" font-size="10.78" text-anchor="start" fill="#111" stroke="#111" stroke-width="0.42">Channel = 18.93 keV | Count = 0</text>
<text transform="translate(687.1,254.0) rotate(-90)" font-family="'Liberation Sans', 'DejaVu Sans', sans-serif" font-size="10.95" text-anchor="middle" fill="#111" stroke="#111" stroke-width="0.4">Counts</text>
</g>
<g id="panel-c">
<path d="M217.3,570.4V1002.7M364.6,570.4V1002.7M511.9,570.4V1002.7M69.6,916.2H658.8M69.6,829.8H658.8M69.6,743.3H658.8M69.6,656.9H658.8" stroke="#efefef" stroke-width="1.6" fill="none"/>
<path d="M99,1002.7V676.7h1V724.3h1V761.9h1V771.9h1V784.4h1V799.5h1V809h1V816.8h1V817.7h1V819.4h1V834.1h1V835.4h1V835h1V843.2h1V831.9h1V844h1V850.5h1V840.6h1V851.4h1V854.4h1V847.5h1V865.7h1V852.3h1V860h1V851.4h1V857.9h1V851.4h1V858.3h1V854.4h1V852.3h1V854.4h1V844h1V860.9h1V850.1h1V848.8h1V858.3h1V861.8h1V868.7h1V858.7h1V867h1V871.3h1V861.3h1V879.1h1V876.9h1V889.9h1V890.3h1V888.6h1V893.3h1V890.3h1V881.7h1V904.1h1V916.7h1V903.7h1V916.7h1V910.6h1V917.5h1V915.8h1V921.9h1V922.7h1V914.9h1V922.7h1V933.1h1V927.9h1V936.1h1V931.4h1V942.6h1V936.6h1V941.7h1V953.9h1V950h1V946.9h1V951.3h1V951.7h1V962.5h1V963.8h1V959.9h1V953.9h1V961.6h1V967.7h1V966.8h1V966.4h1V968.5h1V969h1V966.8h1V967.7h1V966.8h1V972.9h1V969h1V971.6h1V971.1h1V964.2h1V970.3h1V968.1h2V969.8h1V964.2h1V966h1V969.8h1V969h1V967.7h1V971.1h1V973.3h1V971.6h1V969.4h1V967.3h1V967.7h1V969.4h1V968.5h1V970.7h1V968.1h1V964.2h1V968.1h1V967.7h1V967.3h1V969h1V960.3h1V969h1V968.1h1V967.3h2V966.4h1V963.4h1V966h1V964.7h1V966.4h1V969h1V965.5h1V963.8h1V960.3h1V964.2h1V967.3h1V965.5h1V964.2h1V962.9h1V969h1V959h1V967.3h1V964.7h1V964.2h1V966.8h1V957.7h1V965.5h2V961.6h1V956h1V957.7h1V956.9h1V965.5h1V963.8h1V956h1V953.4h1V955.6h1V963.4h1V956.4h1V962.9h1V957.7h1V952.1h1V967.7h1V957.7h1V955.6h1V956.9h1V960.3h1V954.3h1V963.4h1V960.3h1V956.4h1V953.4h1V953h1V959.9h1V956.4h1V956.9h1V953.4h1V955.6h1V953h1V951.3h1V956.4h1V954.7h1V947.8h1V958.2h1V956.9h1V955.1h1V944.8h1V955.1h1V953.4h1V957.7h1V951.7h1V954.7h1V948.7h1V948.2h1V945.2h1V953.4h1V950.8h1V955.6h1V942.6h1V950.8h1V946.5h1V952.1h1V951.7h1V955.1h1V951.7h1V948.7h1V952.6h1V948.2h1V951.3h1V955.6h1V961.6h1V964.7h1V968.1h1V974.6h1V968.1h1V973.7h1V981.1h1V980.2h1V981.5h1V982.8h1V984.1h1V985.4h1V979.4h1V985.4h1V981.1h1V982.4h1V986.3h1V978.1h1V986.3h1V978.9h1V983.7h1V982.4h1V982.8h2V982.4h1V985.8h1V983.7h1V985.4h1V982.4h1V985.4h1V983.2h1V985h1V985.4h1V985h1V983.2h1V982.4h1V982.8h2V984.5h1V982.8h1V982.4h1V983.7h1V986.7h1V978.1h1V984.5h1V978.5h1V981.1h1V984.5h1V988.4h1V982.8h1V985.8h1V986.7h1V985.4h1V983.7h1V982.8h1V983.7h1V986.3h1V981.1h1V983.7h1V984.1h1V986.3h1V985h1V982.8h2V985.4h1V981.9h1V985.8h1V983.7h1V982.4h1V985.4h1V982.4h2V983.2h1V984.5h1V981.5h1V982.4h1V983.2h1V984.1h1V987.6h1V984.5h1V982.4h1V985h1V986.3h1V984.5h1V982.8h1V982.4h1V979.8h1V982.8h1V981.5h1V982.8h1V984.1h1V986.7h1V984.1h1V980.2h1V983.7h1V984.1h1V987.6h1V983.2h1V977.2h1V983.7h1V983.2h1V986.7h1V983.7h1V982.4h1V981.9h1V987.1h1V983.7h1V984.5h1V986.3h1V980.7h1V980.2h1V981.5h1V984.1h1V983.7h1V982.8h1V983.7h1V982.4h1V983.7h1V982.4h1V984.5h1V981.5h1V980.2h1V982.4h1V979.4h1V978.5h1V979.8h1V981.5h1V981.1h1V978.5h1V981.1h1V983.2h1V977.2h1V975h1V971.1h1V977.6h1V975.5h1V972.4h1V968.1h1V970.7h1V971.1h1V964.7h1V968.5h1V969h1V964.2h1V966h1V964.2h1V968.1h1V962.9h1V965.5h1V965.1h1V964.7h1V965.5h1V968.1h1V966h1V964.2h1V968.1h1V962.1h1V972.4h1V968.5h1V967.7h1V972.4h1V975.5h1V983.7h1V978.9h1V979.8h1V981.9h1V981.5h1V981.1h1V978.5h1V981.9h1V982.4h1V981.9h1V976.3h1V983.2h1V981.9h1V975.9h1V983.7h1V981.1h1V982.8h1V980.7h1V981.1h1V982.8h1V981.1h1V980.2h1V987.1h1V981.9h1V978.9h1V984.1h1V984.5h2V982.4h1V983.2h1V985.8h1V984.5h1V983.2h1V982.4h1V986.3h1V992.8h1V993.2h1V994.1h1V997.1h1V996.6h1V998.4h1V997.5h1V999.2h1V1000.1h1V999.2h1V1000.1h2V998.8h2V999.2h2V999.7h2V1000.1h1V998.8h1V999.2h1V999.7h1V1000.5h1V999.7h1V1000.1h1V1000.5h1V998.8h1V999.7h1V1001h3V1000.5h1V1001.4h1V1001h2V1000.1h1V1000.5h1V1002.3h1V1001h1V1000.1h2V1001.8h1V1001h1V1001.4h1V1000.1h1V1001h1V1001.4h1V1002.3h1V1001h1V1000.5h1V999.2h1V1000.1h2V1001.4h1V1001.8h2V1002.3h1V1000.1h1V1001h1V1001.8h1V1001h1V1000.5h1V1001h3V1001.8h1V1001h1V1000.5h1V1001.8h1V1001.4h3V1001.8h1V1001h1V1001.8h2V1001h1V1002.3h2V1001h1V1001.4h2V1001h2V1001.4h3V1001.8h1V1001h2V1002.3h1V1001.4h1V1001h1V1001.4h1V1000.5h1V1002.3h1V1000.5h1V1001h1V1001.8h1V1002.3h1V1002.7Z" fill="#1466ff" fill-opacity="0.550"/>
<path d="M99,1002.7V700.1h1V736.4h1V764.9h1V789.1h1V790h1V801.2h1V812.1h1V829.3h1V820.7h1V828.7h1V843.2h1V839.1h1V848.4h1V844.5h1V847.9h1V844.5h1V857h1V858.3h1V857h1V859.2h1V855.3h1V866.5h1V858.1h1V860.5h1V868.7h1V865.2h1V860h1V869.8h1V863.1h1V857.2h1V860.9h1V859.2h1V862.4h1V863.5h1V863.9h1V867.8h1V864.8h1V871.7h1V870.4h1V872.4h1V873.4h1V881.7h1V883.2h1V886.8h1V891.2h1V897.2h1V899.4h1V900.5h1V898.9h1V897h1V905.9h1V917.1h1V908.2h1V918.8h1V922.3h1V922.5h1V918h1V924h1V924.5h1V921.9h1V931.6h1V934h1V937.9h1V939.2h1V940.4h1V943.5h1V944.8h1V944.6h1V953.9h2V950.2h1V953.4h1V956.4h1V962.9h1V965.1h1V962.7h1V964.7h1V966.2h1V968.1h1V970.7h1V970.5h1V969.4h1V975.5h1V973.7h1V970.3h1V968.8h1V975h1V974.8h1V972.4h1V971.1h1V972.4h1V975h1V970.7h1V969h1V971.6h1V971.8h1V969h1V970.3h1V973.7h1V970.7h1V973.1h1V974.6h1V973.3h1V970.3h1V972.4h1V972.2h1V973.7h1V969h1V973.1h1V971.6h1V964.9h1V968.1h1V969h1V968.8h1V971.1h1V967.9h1V971.1h1V970.3h1V969.8h1V974.2h1V970.7h1V966.4h1V969h1V968.5h1V970.7h1V973.3h1V970.9h1V966.4h1V968.1h1V967.7h1V969.4h1V972.9h1V969h1V965.7h1V969.8h1V970.3h1V967.5h1V967.7h1V970.1h1V969.8h1V962.9h1V969.4h1V972h1V968.5h1V961.2h1V958.6h1V966h1V967.3h1V964.2h1V956.9h1V962.1h1V964.2h1V963.4h1V964.9h1V963.4h1V958.2h1V963.6h1V968.5h1V962.3h1V957.3h1V961.2h1V962.1h1V957.3h1V967.7h1V961.8h1V962.9h1V959.9h1V959.5h1V961.6h1V959.7h1V957.3h1V962.1h1V956.4h1V957.7h1V957.3h1V956.4h1V959h1V960.3h1V958.6h1V959.5h1V957.3h1V956h1V958.2h1V957.7h1V959.3h1V954.3h1V956h1V953.9h1V959.9h1V959.5h1V956.4h1V952.1h1V957.3h1V950h1V953h1V949.1h1V954.3h1V953.6h1V955.1h1V958h1V955.6h1V956.4h1V952.8h1V958.2h1V960.6h1V963.8h1V970.7h1V972.9h1V976.8h1V974.6h1V981.5h1V981.9h1V982.2h1V982.8h1V984.1h1V986.3h1V985.4h2V988h1V984.5h2V987.6h1V986.5h1V987.1h1V985h2V985.8h1V984.8h1V990.2h1V987.1h1V988.9h1V987.1h1V987.8h1V984.1h1V987.6h1V988h1V985.8h1V987.4h1V988h1V983.2h1V984.8h1V984.5h1V985.6h1V985h2V986.9h1V988.4h1V987.8h1V986.7h1V985.8h1V986.9h1V985h1V987.8h1V988.4h1V985.4h1V988.4h1V988h1V988.2h1V985h1V988.4h1V987.8h1V989.7h1V985.2h1V984.1h1V985.4h1V986.9h1V986.3h1V985.4h1V986.7h1V987.1h3V984.5h1V985.2h1V987.6h1V986.1h1V982.8h1V984.1h1V985.8h1V987.1h1V986.1h1V985.8h1V989.7h1V989.5h1V989.3h1V986.1h1V985.8h1V986.7h1V985.8h1V986.7h1V984.3h1V983.7h1V985h1V987.1h1V985.8h1V987.1h1V987.6h1V986.3h1V986.1h1V984.1h1V985.8h1V988h1V986.3h1V988.2h1V985h1V983.7h1V987.6h1V989.3h1V988.4h1V983.2h1V988.9h1V985.6h1V987.1h2V985.4h1V980.7h1V988.4h1V984.5h1V985.2h1V984.1h1V985.8h1V983.7h1V984.5h1V983.9h1V989.7h1V982.8h1V983.2h1V984.1h1V983.2h1V978.5h1V982.8h1V982.2h1V981.5h1V983h1V981.5h1V988h1V978.7h1V979.8h1V980h1V981.5h1V976.3h1V975.5h1V972.4h1V971.6h1V972.7h1V965.5h1V970.1h1V970.3h1V966.8h2V965.1h1V970.1h1V965.1h1V969.8h1V967.9h1V966.4h1V967h1V968.5h2V966.2h1V970.3h1V969.4h1V972.9h1V975.9h1V973.1h1V974.6h1V980.9h1V985h1V984.1h1V980.9h1V984.5h1V984.3h1V981.9h1V979.8h1V985.4h1V986.3h1V984.1h1V984.3h1V984.5h1V982.6h1V982.8h1V983.7h1V985h1V984.5h1V982.4h2V984.5h1V983h1V980.2h1V987.8h1V984.1h1V983.7h1V987.6h1V985.4h1V986.3h1V983.2h1V986.7h1V989.7h1V986.7h1V985.6h1V991.5h2V994.7h1V995.4h1V997.1h1V997.9h1V998.8h1V999.2h1V999.7h1V1000.8h1V1000.5h1V1000.1h1V1000.3h1V1001h1V1000.1h2V1000.5h1V999.9h1V1001.4h1V1000.1h1V1000.5h1V1000.1h1V1001h1V1000.5h1V1001h2V1001.8h1V1001.4h1V1000.5h1V1001.8h1V1001.2h1V1001.8h1V1001.2h1V1001h1V1001.4h3V1001.8h1V1001h1V1002.3h2V1001h2V1001.8h4V1002.1h1V1001.8h1V1002.3h1V1002.1h1V1001h2V1001.6h1V1001h1V1002.1h1V1001.8h1V1002.3h2V1001h1V1001.8h1V1002.3h1V1001.4h1V1001.6h1V1001.4h1V1002.3h3V1001.8h1V1001.4h1V1002.1h1V1002.3h1V1001.8h1V1002.1h1V1002.3h4V1001.6h1V1002.7h2V1001.8h2V1002.1h1V1001.8h4V1002.1h1V1002.3h1V1001.8h1V1001.6h1V1002.3h2V1001.8h2V1002.5h1V1002.7h1V1001.8h2V1002.3h2V1002.7Z" fill="#1466ff" fill-opacity="0.700"/>
<path d="M99,1002.7V717.4h1V760.2h1V774h1V789.6h1V803h1V814.6h1V823.7h1V830.6h1V844h1V840.2h1V844.9h1V860.5h1V858.3h1V845.8h1V853.6h1V848.8h1V864.4h2V866.5h1V877.8h1V855.7h1V870h1V863.1h1V886.8h1V875.6h1V871.3h1V874.3h1V872.1h1V865.2h1V862.6h1V865.2h1V866.1h1V863.1h1V863.5h1V881.2h1V871.3h1V890.7h1V873.4h1V883.4h1V879.1h1V879.9h1V895.9h1V886.4h1V887.7h1V906.7h1V905.9h1V906.7h1V911.1h1V907.2h1V903.3h1V908.5h1V917.5h1V918h1V926.6h1V922.7h1V932.2h1V923.2h1V926.2h1V937h1V934h1V932.7h1V944.8h3V942.2h1V943.9h1V945.6h1V954.7h1V955.1h1V959.9h1V961.6h1V958.2h2V971.6h1V969.4h1V968.5h1V964.7h1V971.1h1V968.5h1V973.7h1V978.5h2V976.8h1V977.6h1V975h1V973.3h1V976.3h2V974.6h1V974.2h1V975.5h2V976.8h1V972.4h1V977.6h1V974.6h1V975.5h1V977.6h1V975h1V970.7h1V975h1V975.9h2V971.1h1V977.2h1V977.6h1V978.5h1V972.4h1V975.9h1V978.5h1V966.8h1V968.5h1V973.3h1V973.7h1V972h1V976.3h1V971.6h1V973.7h1V975h1V975.5h1V975h1V969h1V970.7h1V972.4h2V979.4h1V974.6h1V973.7h1V970.3h1V970.7h1V971.1h1V976.8h1V972h1V968.5h1V970.3h1V974.6h1V970.7h1V969.4h1V970.3h1V974.6h1V966h1V971.6h1V974.2h2V968.5h1V963.4h1V968.5h1V972.4h1V966h1V972.9h1V969h1V965.1h1V970.3h1V966.4h1V964.7h1V965.1h1V967.7h1V969h1V963.8h1V963.4h1V961.2h1V964.2h1V968.1h1V971.6h1V965.5h1V971.1h1V962.9h1V965.5h1V961.6h2V964.7h1V966.8h1V961.2h1V960.3h1V961.6h1V959h1V960.8h1V964.2h1V965.5h1V963.8h1V960.8h1V956.9h1V959.5h1V963.4h1V962.5h1V956.9h1V959.5h1V956.9h1V961.6h1V961.2h1V962.9h1V962.1h1V957.7h1V952.1h1V962.1h1V953.4h1V954.7h1V961.6h1V959.9h1V963.8h1V962.9h1V962.5h1V958.2h1V959.9h1V969h1V967.7h1V974.6h1V975h1V976.8h1V978.1h1V982.4h1V984.1h1V984.5h1V985.8h1V988.4h1V986.7h1V985.4h1V988.4h1V988.9h1V987.6h2V988.4h1V990.6h1V987.6h1V988.9h2V987.1h1V986.3h1V990.6h1V989.7h2V987.6h1V990.2h1V985h1V988h1V991h1V989.3h1V988.9h2V988.4h1V985.8h2V990.2h1V987.6h1V985.8h1V988.4h1V988.9h1V988h1V987.1h1V988.9h1V988.4h1V986.3h1V990.6h1V988.9h1V986.7h1V988.9h1V989.7h1V989.3h1V987.6h1V989.7h1V988.9h1V991.5h1V986.3h1V985.8h1V986.3h1V987.6h1V990.6h1V988.4h1V991.9h1V988.9h1V991.5h1V990.6h1V986.7h1V987.1h1V991.9h1V988.4h1V987.1h1V984.1h1V991.5h1V989.7h1V987.6h1V987.1h1V990.2h1V989.7h1V990.2h1V987.6h1V985.8h1V990.2h1V989.3h1V986.7h1V987.6h1V987.1h1V989.7h1V990.6h1V986.7h1V991.5h1V991h1V986.7h1V987.6h1V988.9h1V986.7h1V988h1V986.3h1V990.2h1V985.4h1V985.8h1V988.9h1V991h1V990.2h1V988.4h1V990.2h1V987.6h2V988.4h1V986.7h1V985h1V992.3h1V985.4h1V988.4h1V987.1h1V988h1V987.6h1V990.2h1V987.6h1V991.5h1V983.7h1V990.2h1V986.3h2V988h1V985h1V982.4h1V986.3h1V985.4h1V982.8h1V988.4h1V983.7h1V985h1V986.7h1V985h1V977.2h1V977.6h1V973.7h1V975.5h1V974.2h1V976.3h1V972h1V974.6h1V971.6h1V969.8h1V966.4h1V979.8h1V966h1V972h2V971.6h1V968.5h1V971.1h1V974.6h1V970.7h1V973.3h1V971.6h1V976.3h1V976.8h1V974.6h1V976.3h1V984.1h1V987.1h1V985.8h1V983.7h1V985h1V986.3h1V983.2h1V981.9h1V986.3h2V985.4h1V987.6h1V987.1h1V986.3h1V983.7h1V984.1h1V988h1V986.3h1V985.8h1V983.7h1V988h1V985.4h1V981.9h1V988h1V985.8h1V988.4h1V988.9h1V985.8h1V988.4h1V984.1h1V988.4h1V991.5h1V988h1V987.6h1V991.5h1V993.6h1V995.4h1V996.2h1V998.4h1V1000.1h1V998.8h1V999.7h1V1000.5h1V1001.8h2V1001h1V1001.4h2V1001.8h1V1000.1h1V1001h1V1000.5h1V1001.8h3V1002.3h2V1000.5h1V1002.3h3V1001.8h1V1001h1V1002.3h1V1001.8h1V1002.3h2V1001.4h1V1001.8h2V1001.4h1V1002.3h1V1001.8h1V1002.3h1V1002.7h1V1001.4h1V1002.3h1V1001.8h1V1002.7h3V1002.3h1V1001.8h1V1002.3h1V1002.7h1V1002.3h1V1001.8h1V1002.3h1V1001h1V1002.7h1V1001.8h1V1002.3h1V1002.7h1V1001h1V1002.7h1V1002.3h2V1001.8h1V1001.4h1V1002.7h1V1002.3h1V1002.7h1V1001.8h2V1002.7h1V1002.3h1V1002.7h2V1002.3h1V1002.7h2V1002.3h2V1002.7h3V1002.3h3V1001.8h3V1002.3h1V1002.7h1V1001.8h1V1002.3h2V1002.7h1V1002.3h1V1001.8h1V1002.7h2V1002.3h2V1002.7h1V1002.3h1V1002.7Z" fill="#1466ff"/>
<path d="M99,1002.7V997.9h1V998.4h1V995.4h1V997.5h1V996.2h1V997.5h1V995.4h1V997.9h1V996.6h1V995.8h1V996.6h1V996.2h1V1000.1h1V997.5h1V993.6h1V993.2h1V996.2h1V997.5h1V996.6h1V997.1h3V995.4h1V998.8h1V995.8h1V996.6h1V994.5h1V997.5h1V996.2h1V993.6h1V995.4h1V997.5h1V998.4h1V997.5h1V997.9h1V994.9h1V995.4h1V997.1h1V995.8h1V993.6h1V996.6h1V995.8h1V996.2h1V997.9h1V997.1h2V995.4h2V997.5h1V994.9h1V995.8h1V997.1h1V995.4h1V997.9h1V996.2h1V995.8h1V994.1h1V996.6h1V996.2h1V997.9h1V996.2h1V996.6h1V992.8h1V993.2h1V986.7h1V980.7h1V984.1h1V979.4h1V984.1h1V983.7h1V992.3h1V996.6h1V995.8h1V996.2h1V995.8h1V996.6h1V997.5h2V996.2h1V998.4h1V997.5h1V996.6h1V996.2h1V996.6h1V996.2h1V997.1h1V995.4h1V997.1h1V996.2h3V994.1h1V994.5h1V996.2h1V994.9h1V997.9h1V995.4h2V997.5h1V994.1h1V997.5h2V994.9h2V997.1h1V996.2h1V997.5h1V997.1h1V995.4h1V994.5h1V994.9h2V996.2h1V994.1h1V996.6h1V994.9h1V994.1h1V994.9h1V995.8h1V994.9h1V997.5h1V995.4h1V996.6h1V992.3h1V996.2h1V996.6h1V997.1h1V994.9h1V995.8h1V993.2h1V995.8h2V991.9h1V994.9h3V993.2h1V994.5h1V994.1h1V993.2h1V988.4h1V978.1h1V956.9h1V933.1h1V904.6h1V881.7h1V825.9h1V771.9h1V727.8h1V702.7h1V675h1V656.9h1V685.4h1V722.6h1V771.9h1V807.7h1V860.5h1V908.9h1V932.2h1V955.1h1V972.9h1V986.3h1V980.2h1V975h1V968.5h1V959.9h1V958.2h1V958.6h1V955.6h1V954.3h1V953.9h1V956h1V963.4h1V971.6h1V973.3h1V983.2h1V986.3h1V996.2h1V998.4h1V1002.3h1V1001h1V1002.3h2V1001.8h2V1001.4h1V1002.3h1V1001.8h1V1002.3h3V1001.4h2V1002.3h1V1001.4h4V1002.3h1V1001.4h1V1002.3h4V1001.8h1V1002.7h2V1002.3h2V1001.8h3V1002.3h4V1001.8h1V1002.3h2V1001.8h1V1002.3h1V1001.8h1V1001.4h1V1001.8h4V1000.5h1V1001.8h2V1002.3h2V1001.4h1V1001.8h1V1002.3h1V1001.8h1V1002.3h1V1001.8h1V1002.3h2V1001.8h3V1000.5h1V1002.3h2V1001.4h1V1001.8h1V1002.3h1V1001.8h1V1002.3h2V1001.4h1V1002.7h1V1001.8h2V1001.4h1V1001.8h1V1002.3h1V1001.4h1V1001.8h1V1002.7h2V1002.3h1V1001.8h3V1001h1V1002.3h1V1001.8h2V1002.3h1V1001.4h1V1002.3h3V1001.8h1V1001.4h1V1001.8h1V1002.3h2V1002.7h1V1001.8h3V1002.3h1V1001.8h1V1002.3h1V1001h1V1002.3h4V1001.8h2V1002.3h2V1001.4h1V1001.8h1V1002.3h1V1001.8h3V1002.3h6V1001.4h1V1001.8h1V1002.3h3V1002.7h1V1001.8h2V1002.3h1V1001.4h1V1002.7h1V1002.3h1V1001.4h1V1002.7h1V1001.8h1V1002.3h3V1001.4h1V1002.3h3V1001.8h1V1002.3h3V1001.8h2V1001.4h1V1001.8h1V1001.4h1V1001.8h1V1002.3h2V1002.7h1V1002.3h2V1001.8h1V1002.3h1V1002.7h1V1001.8h1V1002.3h1V1001.8h1V1002.3h2V1002.7Z" fill="rgb(255,104,76)" fill-opacity="0.280"/>
<path d="M99,1002.7V998.4h1V999h1V996.6h1V997.9h1V998.8h1V998.4h1V999.2h1V1000.5h1V997.1h1V997.5h2V997.3h1V1000.5h1V998.8h1V997.1h1V998.8h1V996.9h1V997.5h1V996.6h1V997.5h2V997.9h1V997.3h1V999.2h1V997.5h1V997.1h1V996.6h1V998.4h1V997.9h1V995.6h1V998.8h2V999.5h1V998.4h3V996.6h1V997.7h1V998.4h1V996.2h1V996.6h1V999.2h1V997.5h1V999.2h1V997.7h1V997.5h1V995.8h1V997.5h2V996.9h1V998.4h1V997.1h1V997.3h1V998.4h2V997.7h1V996.6h1V998.8h1V996.6h1V998.4h1V997.7h1V997.5h1V994.5h1V993.6h1V991h1V988.9h1V985h1V984.5h1V988h1V992.3h1V994.5h1V997.1h1V998.6h1V996.6h1V998.8h1V998.4h1V997.5h2V997.1h1V998.8h1V998.2h1V997.1h1V1000.3h1V998.8h1V997.1h1V998.2h1V996.6h1V998.8h1V996.2h1V997.5h1V998.8h1V996.6h1V997.9h1V997.7h1V997.5h1V998.2h1V996.6h1V997.9h1V998.4h1V997.1h1V997.9h1V998.8h1V995.8h1V998.2h1V997.9h1V997.7h1V998.8h1V997.9h1V997.1h1V998.8h1V997.5h3V996.9h1V997.9h1V996.6h1V995.4h1V999.2h1V996.4h1V997.1h1V998.4h1V995.4h1V998.4h1V996.2h1V997.9h1V997.5h1V997.9h1V996.6h1V996h1V996.6h1V996.2h1V997.3h1V994.9h1V995.8h1V996.6h1V994.9h1V994.5h1V994.9h1V995.4h1V995.8h1V991h1V980.2h1V966h1V944.6h1V924h1V893.3h1V838.4h1V781.8h1V747h1V702.7h1V677.6h1V676.5h1V690.6h1V730.8h1V777.9h1V812.1h1V884.9h1V930.9h1V941.7h1V968.5h1V976.8h1V987.4h1V986.7h1V976.3h1V975.7h1V964.7h1V962.7h1V962.5h1V957.3h1V956.4h1V961.2h1V959.9h1V966h1V972h1V979.8h1V987.1h1V990.4h1V998.4h1V1000.5h1V1002.7h1V1002.3h1V1002.7h2V1001.8h1V1002.3h1V1001.8h1V1002.5h1V1002.3h1V1002.7h1V1002.5h1V1002.7h1V1002.3h2V1002.7h1V1002.1h1V1002.7h1V1002.3h1V1002.1h1V1002.7h1V1001.6h1V1002.7h1V1002.3h1V1002.7h2V1002.3h1V1002.7h2V1002.5h1V1002.3h1V1002.5h1V1002.7h1V1001.8h1V1002.3h2V1002.5h1V1002.7h1V1002.3h1V1002.5h1V1002.3h1V1002.5h1V1002.3h1V1001.8h1V1002.5h1V1002.3h1V1002.5h1V1002.3h2V1002.1h1V1001.8h1V1002.3h1V1002.7h1V1002.3h1V1001.8h1V1002.3h4V1002.5h1V1002.7h1V1002.3h1V1002.5h1V1002.3h1V1002.1h1V1002.3h3V1001.8h1V1002.5h1V1002.7h1V1001.8h1V1002.7h1V1002.3h1V1002.5h1V1002.7h1V1002.3h1V1002.5h1V1002.7h1V1002.1h1V1002.3h1V1001.8h1V1002.5h1V1002.7h3V1002.3h1V1002.1h1V1002.7h1V1002.5h1V1002.3h2V1002.7h2V1001.8h1V1002.7h3V1001.8h1V1002.3h1V1002.5h1V1002.3h2V1002.7h1V1002.3h3V1002.7h3V1002.1h1V1002.7h1V1002.5h1V1002.3h2V1002.5h1V1002.3h1V1002.5h1V1002.3h1V1001.8h1V1002.5h1V1002.3h1V1002.5h1V1002.3h2V1002.7h1V1002.3h1V1002.7h1V1002.5h1V1002.7h3V1002.3h1V1002.7h1V1002.3h1V1002.5h1V1002.7h1V1002.3h1V1002.1h1V1002.7h1V1002.5h1V1002.7h2V1002.3h1V1002.7h1V1002.5h1V1002.7h1V1002.3h1V1002.7h1V1002.3h1V1002.5h1V1002.7h1V1002.3h1V1002.7h2V1002.5h1V1002.7h1V1001.8h1V1002.5h1V1002.3h1V1002.5h1V1002.3h2V1002.5h1V1002.7h2V1002.5h1V1002.3h2V1002.7h2V1002.3h2V1002.5h1V1002.3h2V1002.7Z" fill="rgb(255,104,76)" fill-opacity="0.333"/>
<path d="M99,1002.7V999.2h1V1000.1h1V997.5h1V999.2h1V1000.1h1V999.7h2V1000.5h1V999.2h2V998.8h1V998.4h1V1001h1V999.2h1V998.8h1V999.7h2V998.4h3V999.7h1V998.8h1V999.2h2V997.9h1V999.7h1V997.5h1V999.2h1V998.4h1V999.2h3V1000.1h2V998.8h1V1000.5h1V997.9h1V998.8h1V1000.5h1V997.1h1V997.9h1V1000.1h1V997.9h1V999.2h1V998.8h1V998.4h2V999.2h1V997.9h1V999.7h1V1000.5h1V997.5h1V998.4h1V1000.5h1V999.2h1V998.4h1V997.5h1V999.7h2V998.8h1V999.2h2V995.4h1V994.1h1V991h1V993.2h1V986.7h1V986.3h1V988.4h1V995.4h1V996.2h1V997.5h1V999.2h2V999.7h2V999.2h1V998.4h1V999.7h1V999.2h3V1000.5h1V999.2h1V998.8h1V999.2h1V998.8h1V999.2h1V997.9h1V1000.5h1V999.7h1V997.5h1V1000.1h1V998.4h1V998.8h1V999.2h1V997.9h1V998.8h1V999.7h1V998.8h1V1000.1h2V998.4h1V998.8h1V998.4h1V998.8h2V999.2h1V998.8h1V1000.1h1V998.4h1V999.7h1V999.2h1V1000.1h1V998.4h1V997.5h1V998.8h1V999.7h1V998.4h1V997.9h1V1000.1h1V997.1h1V998.8h1V997.5h1V998.4h1V998.8h1V1000.1h1V997.9h1V996.6h2V997.5h2V997.9h1V998.4h1V997.5h1V995.8h1V998.8h1V996.6h2V997.1h1V994.1h1V988.4h1V975.5h1V950.8h1V929.6h1V912.8h1V853.1h1V800.8h1V761h1V720.8h1V683.2h1V694h1V700.5h1V758h1V797.8h1V827.6h1V900.7h1V932.7h1V952.1h1V974.6h1V983.2h1V993.6h1V991h1V976.8h1V978.1h1V972.4h1V968.5h1V963.4h1V961.2h1V959h1V961.6h1V964.2h1V967.7h1V981.1h1V984.5h1V988h1V996.2h1V998.4h1V1002.7h7V1002.3h1V1002.7h8V1002.3h1V1002.7h1V1002.3h1V1002.7h2V1002.3h1V1002.7h11V1002.3h2V1002.7h3V1002.3h1V1002.7h4V1002.3h1V1002.7h1V1002.3h1V1002.7h4V1002.3h1V1002.7h12V1002.3h2V1002.7h1V1002.3h1V1002.7h4V1002.3h1V1002.7h22V1001.8h1V1002.7h4V1002.3h1V1002.7h18V1002.3h2V1002.7h1V1002.3h1V1002.7h1V1002.3h1V1002.7h8V1002.3h1V1002.7h4V1002.3h1V1002.7h14V1002.3h1V1002.7h8V1002.3h2V1002.7h4V1002.3h1V1002.7h4V1002.3h1V1002.7h2V1002.3h1V1002.7Z" fill="rgb(255,104,76)" fill-opacity="0.375"/>
<path d="M103.0,571.4V1002.2M108.5,571.4V1002.2M114.0,571.4V1002.2M119.5,571.4V1002.2M125.0,571.4V1002.2M130.5,571.4V1002.2M136.0,571.4V1002.2M141.5,571.4V1002.2M147.0,571.4V1002.2M152.5,571.4V1002.2M158.0,571.4V1002.2M163.5,571.4V1002.2M169.0,571.4V1002.2M174.5,571.4V1002.2M180.0,571.4V1002.2M185.5,571.4V1002.2M191.0,571.4V1002.2M196.5,571.4V1002.2M202.0,571.4V1002.2M207.5,571.4V1002.2M213.0,571.4V1002.2M218.5,571.4V1002.2M224.0,571.4V1002.2M229.5,571.4V1002.2M235.0,571.4V1002.2M240.5,571.4V1002.2M246.0,571.4V1002.2M251.5,571.4V1002.2M257.0,571.4V1002.2M262.5,571.4V1002.2M268.0,571.4V1002.2M273.5,571.4V1002.2M279.0,571.4V1002.2M284.5,571.4V1002.2M290.0,571.4V1002.2M295.5,571.4V1002.2M301.0,571.4V1002.2M306.5,571.4V1002.2M312.0,571.4V1002.2M317.5,571.4V1002.2M323.0,571.4V1002.2M328.5,571.4V1002.2M334.0,571.4V1002.2M339.5,571.4V1002.2M345.0,571.4V1002.2M350.5,571.4V1002.2M356.0,571.4V1002.2M361.5,571.4V1002.2M367.0,571.4V1002.2M372.5,571.4V1002.2M378.0,571.4V1002.2M383.5,571.4V1002.2M389.0,571.4V1002.2M394.5,571.4V1002.2M400.0,571.4V1002.2M405.5,571.4V1002.2M411.0,571.4V1002.2M416.5,571.4V1002.2M422.0,571.4V1002.2M427.5,571.4V1002.2M433.0,571.4V1002.2M438.5,571.4V1002.2M444.0,571.4V1002.2M449.5,571.4V1002.2M455.0,571.4V1002.2M460.5,571.4V1002.2M466.0,571.4V1002.2M471.5,571.4V1002.2M477.0,571.4V1002.2M482.5,571.4V1002.2M488.0,571.4V1002.2M493.5,571.4V1002.2M499.0,571.4V1002.2M504.5,571.4V1002.2M510.0,571.4V1002.2M515.5,571.4V1002.2M521.0,571.4V1002.2M526.5,571.4V1002.2M532.0,571.4V1002.2M537.5,571.4V1002.2M543.0,571.4V1002.2M548.5,571.4V1002.2M554.0,571.4V1002.2M559.5,571.4V1002.2M565.0,571.4V1002.2M570.5,571.4V1002.2M576.0,571.4V1002.2M581.5,571.4V1002.2M587.0,571.4V1002.2M592.5,571.4V1002.2M598.0,571.4V1002.2M603.5,571.4V1002.2M609.0,571.4V1002.2M614.5,571.4V1002.2M620.0,571.4V1002.2M625.5,571.4V1002.2M631.0,571.4V1002.2M636.5,571.4V1002.2M642.0,571.4V1002.2M647.5,571.4V1002.2M653.0,571.4V1002.2" stroke="#fff" stroke-opacity="0.085" stroke-width="1" fill="none"/>
<line x1="627.30" y1="570.4" x2="627.30" y2="1002.7" stroke="#ff7070" stroke-width="1.3"/>
<path d="M69.6,570.4H658.8V1002.7" stroke="#7e7e7e" stroke-width="1.4" fill="none" stroke-linejoin="round"/>
<path d="M69.6,570.4V1008.7M62.2,1002.7H69.6M62.2,916.2H69.6M62.2,829.8H69.6M62.2,743.3H69.6M62.2,656.9H69.6M62.2,570.4H69.6" stroke="#666666" stroke-width="1.6" fill="none"/>
<path d="M69.6,1002.7H658.8M216.9,1002.7V1008.7M364.2,1002.7V1008.7M511.5,1002.7V1008.7M658.8,1002.7V1008.7" stroke="#666666" stroke-width="1.6" fill="none"/>
<text transform="translate(61.80,924.74) scale(0.8000,1)" font-family="'Liberation Serif', 'DejaVu Serif', serif" font-size="25.80" text-anchor="end" letter-spacing="3.75" fill="#111" stroke="#111" stroke-width="0.12">200</text>
<text transform="translate(61.80,838.28) scale(0.8000,1)" font-family="'Liberation Serif', 'DejaVu Serif', serif" font-size="25.80" text-anchor="end" letter-spacing="3.75" fill="#111" stroke="#111" stroke-width="0.12">400</text>
<text transform="translate(61.80,751.82) scale(0.8000,1)" font-family="'Liberation Serif', 'DejaVu Serif', serif" font-size="25.80" text-anchor="end" letter-spacing="3.75" fill="#111" stroke="#111" stroke-width="0.12">600</text>
<text transform="translate(61.80,665.36) scale(0.8000,1)" font-family="'Liberation Serif', 'DejaVu Serif', serif" font-size="25.80" text-anchor="end" letter-spacing="3.75" fill="#111" stroke="#111" stroke-width="0.12">800</text>
<text transform="translate(61.80,577.40) scale(0.8000,1)" font-family="'Liberation Serif', 'DejaVu Serif', serif" font-size="25.80" text-anchor="end" letter-spacing="3.75" fill="#111" stroke="#111" stroke-width="0.12">1,000</text>
<text transform="translate(65.00,1028.30) scale(0.8000,1)" font-family="'Liberation Serif', 'DejaVu Serif', serif" font-size="25.80" text-anchor="middle" letter-spacing="3.38" fill="#111" stroke="#111" stroke-width="0.12">0</text>
<text transform="translate(214.10,1028.30) scale(0.8000,1)" font-family="'Liberation Serif', 'DejaVu Serif', serif" font-size="25.80" text-anchor="middle" letter-spacing="3.38" fill="#111" stroke="#111" stroke-width="0.12">5</text>
<text transform="translate(361.50,1028.30) scale(0.8000,1)" font-family="'Liberation Serif', 'DejaVu Serif', serif" font-size="25.80" text-anchor="middle" letter-spacing="3.38" fill="#111" stroke="#111" stroke-width="0.12">10</text>
<text transform="translate(511.10,1028.30) scale(0.8000,1)" font-family="'Liberation Serif', 'DejaVu Serif', serif" font-size="25.80" text-anchor="middle" letter-spacing="3.38" fill="#111" stroke="#111" stroke-width="0.12">15</text>
<text transform="translate(656.90,1028.30) scale(0.8000,1)" font-family="'Liberation Serif', 'DejaVu Serif', serif" font-size="25.80" text-anchor="middle" letter-spacing="3.38" fill="#111" stroke="#111" stroke-width="0.12">20</text>
<text transform="translate(354.85,550.20) scale(0.9000,1)" font-family="'Liberation Serif', 'DejaVu Serif', serif" font-size="22.50" text-anchor="middle" letter-spacing="2.78" fill="#111" stroke="#111" stroke-width="0.3">Pulse Energy Spectrum</text>
<text class="panel-label" font-family="'Liberation Serif', 'DejaVu Serif', serif" font-size="61" fill="#000"><tspan x="539.89" y="626.90" textLength="13.81" lengthAdjust="spacingAndGlyphs">(</tspan><tspan x="561.92" y="631.90" textLength="22.75" lengthAdjust="spacingAndGlyphs">c</tspan><tspan x="591.19" y="626.90" textLength="13.81" lengthAdjust="spacingAndGlyphs">)</tspan></text>
<text transform="translate(285.50,1042.00) scale(1.0000,1)" font-family="'Liberation Sans', 'DejaVu Sans', sans-serif" font-size="10.78" text-anchor="start" fill="#111" stroke="#111" stroke-width="0.42">Channel = 18.93 keV | Count = 0</text>
<text transform="translate(15.0,786.5) rotate(-90)" font-family="'Liberation Sans', 'DejaVu Sans', sans-serif" font-size="10.95" text-anchor="middle" fill="#111" stroke="#111" stroke-width="0.4">Counts</text>
</g>
<g id="panel-d">
<path d="M890.0,571.0V1003.3M1037.2,571.0V1003.3M1184.3,571.0V1003.3M742.5,916.8H1331.0M742.5,830.4H1331.0M742.5,743.9H1331.0M742.5,657.5H1331.0" stroke="#efefef" stroke-width="1.6" fill="none"/>
<path d="M771,1003.3V653.1h1V705h1V751.3h1V779.8h1V804h1V833.4h1V845.1h1V860.6h1V862.4h1V874.9h1V888.3h1V874.9h1V887h1V895.7h1V895.2h1V898.7h1V881.4h1V894.8h1V892.6h1V890.9h1V887.4h1V892.6h1V881.8h1V887h1V893.5h1V887.4h1V892.2h1V890.9h1V890.5h1V874.9h1V887h1V886.1h1V885.7h1V873.6h1V876.2h1V871.9h1V873.6h1V877.5h1V863.2h1V866.7h1V860.2h1V867.1h1V863.2h1V845.1h1V857.6h1V839h1V861.5h1V856.3h1V839.9h1V840.3h1V849h1V836.4h1V837.3h1V843.8h1V847.2h1V833.8h1V843.3h1V843.8h1V830.8h1V840.3h1V841.6h1V839.5h1V832.5h1V824.8h1V842.5h1V842.9h1V836.9h1V843.3h1V831.7h1V843.8h1V849h1V849.8h1V850.7h1V851.6h1V861.1h1V867.6h1V869.3h1V885.3h1V877.5h1V896.5h1V893.9h2V906.9h1V914.7h1V925.5h1V914.2h1V919.9h1V930.2h1V933.7h1V939.8h1V936.7h1V945.4h1V945.8h1V952.7h1V960.9h2V962.7h1V958.8h1V963.5h1V966.1h1V960.9h1V962.2h1V963.1h1V967.4h1V965.7h1V966.6h1V965.3h1V967h1V963.1h1V964.4h1V961.4h1V969.1h1V962.7h1V963.1h1V964.4h1V963.5h1V961.4h1V960.9h1V966.6h1V964.4h1V961.8h1V960.5h1V958.8h1V960.5h1V957.5h1V956.6h1V951.9h1V959.6h2V954.9h1V957.9h1V960.9h1V950.6h1V957h1V956.6h1V955.7h1V957h1V952.7h1V955.3h2V942.3h1V950.1h1V950.6h1V952.3h1V949.3h1V952.7h1V947.5h1V951.4h1V948.8h1V954.5h1V948.4h1V947.1h1V948.4h1V947.1h1V946.2h1V936.7h1V939.3h1V938h1V938.9h1V935h1V941.9h1V942.3h1V933.7h1V938.9h1V935h1V937.2h1V941h1V941.9h1V942.8h1V940.2h1V943.6h1V941.9h1V937.6h1V937.2h1V942.8h1V944.1h1V941.5h1V947.1h1V940.6h1V943.2h1V942.3h1V948.8h1V950.1h1V944.9h1V948.8h2V955.3h1V951.4h1V957.9h1V956.6h1V948.4h1V957.9h1V960.9h1V959.2h1V958.8h1V964h1V956.2h1V955.7h1V962.7h1V963.5h1V966.6h1V961.8h1V957.5h1V964.8h2V957h1V965.3h1V968.3h1V964.4h1V966.6h1V961.8h1V971.3h1V976.1h1V971.7h1V978.7h1V983.4h1V983.8h1V984.7h1V987.7h1V988.2h1V991.2h1V989h1V988.2h1V992.9h1V988.2h1V988.6h1V989.9h1V986.9h1V991.2h1V991.6h1V987.7h1V986h1V990.3h1V989h1V989.9h1V992.5h1V992.9h1V992.1h1V990.3h1V989.5h1V990.3h1V990.8h1V989.9h3V992.1h1V993.4h1V992.9h1V991.6h1V994.2h1V991.2h1V989.9h1V990.8h1V989.9h1V990.8h1V992.1h1V991.2h1V989.5h1V992.9h1V994.7h1V990.3h2V992.5h1V992.1h2V992.5h1V989h1V992.5h1V988.6h1V991.2h1V994.2h1V990.8h1V986.9h1V990.3h1V991.6h1V989.5h1V990.3h1V989.9h1V990.3h1V989h1V990.3h1V985.1h1V992.1h1V990.3h1V989.9h1V992.1h1V991.2h2V991.6h1V987.3h1V991.6h1V992.5h1V988.6h1V993.4h1V989.9h1V989.5h1V993.4h1V991.6h1V992.9h1V992.1h1V991.2h1V989.5h1V990.3h2V990.8h1V991.2h1V988.2h1V990.3h1V992.1h2V992.9h1V989.9h1V991.6h1V985.6h1V990.3h1V990.8h1V991.2h1V989.9h1V989.5h1V991.2h1V989.5h1V992.5h1V990.3h2V991.2h1V989h1V989.9h1V987.3h1V986.9h1V989.5h1V987.3h1V989.9h1V984.3h1V990.3h1V989h1V985.6h1V991.2h1V989.9h1V990.3h1V989.5h1V986.9h1V988.6h1V989.9h1V990.3h1V987.7h1V988.2h1V989h1V988.2h1V989h1V989.5h1V989h2V986.4h1V989.9h1V985.1h1V987.3h1V986h1V986.4h2V987.7h1V989.5h1V988.2h1V986h1V990.3h1V987.7h1V986.9h1V989.9h1V988.6h1V985.1h1V987.7h1V988.6h1V984.7h1V986.9h1V986h1V985.1h1V986.4h1V989.5h1V982.5h1V985.1h1V985.6h1V983h1V980h1V981.3h1V987.3h1V984.7h1V981.3h1V982.1h1V979.5h1V975.6h1V982.1h2V979.5h1V980.8h1V979.1h1V980.4h1V980h1V976.5h1V982.1h1V975.2h1V972.6h1V980.4h1V976.5h1V972.2h1V976.1h1V972.2h1V973.5h1V976.5h1V972.6h1V968.7h1V969.1h1V968.3h1V973.5h1V967.9h1V972.2h1V976.1h1V970.9h1V973.9h1V973.5h1V970.9h1V977.8h1V976.1h1V980.8h1V976.1h1V974.3h1V979.1h1V974.8h1V979.1h1V976.5h1V978.2h1V978.7h1V981.3h1V979.5h1V983.4h1V978.2h1V982.5h1V983.4h1V985.6h1V983.8h2V984.3h1V982.1h1V988.6h1V987.3h1V980.8h2V983.4h1V982.5h1V980.8h1V979.1h1V976.1h1V975.6h1V976.5h1V979.1h1V975.6h1V975.2h1V974.8h1V976.9h1V981.3h1V978.2h1V984.3h1V980.4h1V983.4h1V981.3h1V984.3h1V991.6h1V991.2h1V992.5h1V998.1h2V999.8h1V1001.1h2V1000.3h1V1002h1V1000.7h1V1002.4h1V1002h2V1001.6h1V1000.7h1V1002.4h1V1002.9h1V1001.6h1V1002h2V1002.4h1V1000.7h1V1002h1V1002.9h1V1002h1V1001.1h1V1002.4h1V1001.6h1V1002h2V1002.9h1V1000.3h1V1002h1V1001.6h1V1002.4h1V1001.6h1V1002h4V1002.4h1V1002h1V1001.6h2V1000.7h1V1002h1V1001.6h1V1002.4h2V1001.1h1V1002.9h1V1002.4h1V1002.9h1V1002h1V1002.9h1V1000.3h1V1002h1V1001.6h2V1002h2V1001.6h1V1002h1V1001.6h2V1002.4h2V1001.6h1V1002h1V1002.4h1V1002h1V1002.4h3V1002h2V1001.6h1V1002.4h1V1000.7h1V1002h2V1000.3h1V1002h1V1002.4h1V1002h6V1002.4h1V1002h1V1001.6h1V1002h2V1003.3Z" fill="#1466ff" fill-opacity="0.550"/>
<path d="M771,1003.3V659.6h1V713h1V754.7h1V782h1V809.8h1V835.1h1V850.9h1V867.1h1V880.1h1V876.4h1V890h1V895.9h1V891.3h1V900.4h1V899.5h1V911.2h1V908.8h1V905.6h1V893.1h1V895h1V906.5h1V901.7h1V887.9h1V906h1V901.3h1V896.1h1V893.3h1V892.2h1V892.6h1V888.3h1V893.1h1V889.8h1V898.7h1V890.5h1V881h1V876.6h1V877.5h1V881.8h1V871.9h1V871.2h1V862.8h1V868.9h1V868h1V857.6h1V862.4h1V861.9h1V863.5h1V859.8h1V847.2h1V853.3h1V850.7h1V856.8h1V847.7h1V844.6h1V852h1V850.3h1V854.8h1V849h1V841.2h1V847.7h1V842.9h1V852.6h1V841.6h1V845.1h1V849.4h1V844.6h1V842.3h1V852.4h1V856.3h1V848.1h1V851.6h1V856.8h1V860.6h1V853.7h1V869.5h1V873.2h1V873.6h1V886.1h1V890h1V899.3h1V903.9h1V907.8h1V912.1h1V918.6h1V926.1h1V929.8h1V924.4h1V938.5h1V937.6h1V944.1h1V938.5h1V946h1V949.3h1V956.6h1V963.7h1V961.8h1V963.3h1V959.6h1V964.8h1V971.5h1V965.3h1V964.6h1V967.4h1V971.7h1V967.2h1V970.4h1V968.7h1V971.1h1V964h1V965.5h1V965.3h1V970h1V967.6h1V967.9h1V971.3h1V964.4h1V965.3h2V970.4h1V967h1V964.4h2V960.1h1V964.4h1V962.2h1V966.1h1V957h1V963.3h1V960.1h1V960.9h1V959.2h1V961.4h1V956.8h1V958.8h1V959.4h1V959.6h1V959.2h1V958.8h1V957.9h1V960.1h1V945.4h1V954h1V960.5h1V954.5h1V955.5h1V953.6h1V953.2h1V952.7h1V949.3h1V955.1h1V950.6h1V949.7h2V951.9h1V949.5h1V945.4h1V950.1h1V948h1V941h1V952.9h1V947.5h1V943.2h1V948.8h1V943.2h1V946h1V940.2h1V946.2h1V946.9h1V944.9h2V945.4h1V943.6h1V941.9h1V943.2h1V943.6h1V947.5h2V954.2h1V947.1h1V946.9h1V948.4h1V949.3h1V950.1h1V946.7h1V952.9h1V952.3h1V957.5h1V955.7h1V961.4h1V959h1V956.2h1V962.7h1V965.9h1V960.1h1V964h1V969.6h1V960.9h1V960.1h1V964.4h1V967h1V967.4h1V965.3h1V967.6h1V966.6h1V971.1h1V967h1V967.9h1V970.2h1V971.7h1V968.7h1V961.8h1V974.8h1V979.5h1V975.6h1V981.9h1V985.6h2V984.9h1V987.7h1V990.3h1V992.9h2V988.6h1V994.7h1V989.5h1V994.2h1V991.6h1V991.4h1V995.5h1V993.1h1V992.5h1V993.4h1V991.8h1V991.6h1V993.8h1V994.4h1V992.9h1V993.4h1V990.8h1V992.1h1V992.3h1V992.5h1V991.8h1V992.9h2V993.4h1V994.7h1V994.4h1V991.6h1V994.7h1V993.4h1V993.8h1V991.8h1V992.5h1V992.1h1V993.4h1V992.9h1V991.6h1V993.4h1V995.1h1V992.3h1V996.4h1V993.4h1V994.2h1V992.9h1V994.4h1V994.2h1V993.1h1V992.1h1V992.9h1V994.4h1V993.4h1V991.4h1V993.8h1V992.1h1V994.2h1V990.8h1V992.9h1V993.4h1V991.2h1V992.7h1V990.8h1V992.9h1V990.8h1V992.5h1V993.1h1V992.5h1V992.9h1V993.8h1V989h1V992.5h1V992.9h1V992.3h1V995.5h1V989.9h1V991.6h1V993.4h1V992.5h1V993.4h1V995.1h1V991.6h1V991.2h1V993.1h1V991.6h2V993.4h1V989.9h1V991.8h1V992.5h2V993.4h1V990.8h1V992.1h1V991.6h1V992.9h1V993.1h1V992.5h1V990.3h1V992.5h1V991.6h1V990.8h1V992.9h1V991.6h1V991.2h1V991.6h1V990.5h1V991.6h1V991.2h1V990.3h1V991.6h1V991.4h1V991.6h1V990.1h1V990.8h1V989.5h1V990.3h1V992.5h1V993.4h1V992.1h1V991.6h1V989.7h1V989h1V990.5h1V992.9h1V989h1V991.6h1V989.9h1V992.1h1V993.4h1V992.1h1V992.5h1V989.9h1V990.3h1V992.1h1V989.5h1V989.7h1V989h1V989.5h2V991.6h1V990.5h1V988.6h1V989.7h1V991.2h1V988.6h2V991.6h1V989.9h1V988.4h1V987.7h1V989.7h1V987.7h1V989h1V987.1h1V988.6h1V987.1h1V990.3h1V983.8h1V986.4h2V986.7h1V987.7h1V986h1V987.5h1V988.6h1V985.8h1V985.1h1V986h1V984.3h1V986.9h1V983.4h1V980h1V986.9h1V980.4h1V981.3h1V981.9h1V980h1V984.3h1V980.4h1V976.5h1V980.6h1V979.1h1V976.9h1V978.2h1V973h1V978.4h1V976.9h1V975.2h1V972h1V976.1h1V970.9h1V974.8h1V977.4h1V976.5h1V976.1h1V974.3h1V977.4h1V974.3h1V975.8h1V980.8h1V977.8h1V980.8h1V978.7h1V976.9h1V981.7h1V979.7h1V980.8h1V980.4h1V980.2h1V980.4h1V982.5h1V980.8h1V983.8h1V982.3h1V984.7h1V985.6h1V986h1V984.3h1V986.2h1V986.9h2V989h1V987.7h1V985.1h1V983.4h1V984.5h1V985.6h1V985.1h1V981.7h1V980h1V980.8h1V980.4h1V979.1h1V979.5h1V982.1h1V980h1V983.8h1V981.3h1V983.4h1V986.9h1V985.6h2V985.1h1V990.8h1V992.5h1V993.8h1V994.2h1V998.1h1V999.4h1V1000.7h1V1001.6h1V1001.1h1V1002.4h2V1001.1h1V1002.4h1V1002h1V1002.4h1V1002h1V1001.1h1V1002.4h1V1002.9h1V1002.4h2V1002h1V1003.3h1V1002.4h2V1002.9h1V1002.4h1V1002.7h1V1002.4h2V1002.7h1V1002.4h1V1003.3h1V1002h1V1002.4h1V1001.6h1V1002.4h1V1002h1V1002.2h1V1002.9h1V1002.7h1V1002.9h1V1002.4h1V1002.2h1V1002.4h2V1001.6h1V1002h1V1001.8h1V1002.9h1V1003.1h1V1001.1h1V1002.9h1V1002.7h1V1002.9h1V1002.7h1V1003.3h1V1001.6h1V1002.2h1V1002.4h2V1002.9h2V1002.2h1V1002.9h1V1002.7h1V1002h1V1002.9h1V1002.7h1V1002h1V1002.7h1V1002.4h4V1002.7h1V1002h1V1002.9h1V1002.7h1V1003.3h1V1002.7h1V1002.4h2V1002h1V1002.4h3V1002.9h1V1002.2h1V1002h1V1002.2h1V1002.4h1V1002.9h1V1002.7h1V1002.4h1V1002.2h1V1002.9h1V1003.3Z" fill="#1466ff" fill-opacity="0.700"/>
<path d="M771,1003.3V681.2h1V725.3h1V754.7h1V792.8h1V831.2h1V837.7h1V860.6h1V871.9h1V880.5h1V883.1h1V893.9h1V902.6h1V906.5h1V907.8h1V909.1h1V913.4h1V909.5h1V907.8h1V909.1h1V901.7h1V911.2h1V909.5h1V900h1V912.1h1V903.4h1V900.4h1V894.8h1V903.4h2V893.9h1V894.4h1V902.1h1V900.8h1V892.6h1V883.1h1V886.1h1V888.7h1V883.6h1V880.1h1V872.3h1V880.5h1V872.7h1V870.6h1V865.4h1V866.7h1V867.6h1V865h1V861.5h1V858.5h1V859.8h1V852h1V867.6h1V856.3h1V849.8h1V858.5h1V859.3h1V861.9h1V851.6h1V856.3h1V857.6h1V842.9h1V858.5h1V843.8h1V850.3h1V853.3h1V855.5h1V853.7h2V861.1h1V860.2h1V865.8h1V867.6h1V868h1V865.8h1V871h1V876.6h1V890.5h1V909.1h1V898.3h1V906h1V912.1h2V916h1V926.8h1V926.4h1V936.3h1V929.8h1V947.5h1V942.3h1V950.6h1V946.7h1V962.7h1V954h1V959.2h1V968.7h1V964.4h1V967.9h1V963.5h1V973h1V972.6h1V969.1h1V968.3h1V974.3h1V972.6h1V970h1V970.4h1V969.1h1V972.2h1V969.6h1V973.9h1V965.3h1V972.2h1V970h1V968.7h1V973h1V966.1h2V967.4h1V973.9h1V972.2h1V964.8h1V973h1V966.1h1V967h1V967.9h1V967.4h1V966.6h1V972.6h1V965.3h1V966.1h1V964.8h1V962.7h3V963.5h1V962.2h1V959.6h1V961.4h1V959.2h1V960.5h1V958.8h1V961.4h1V961.8h1V961.4h1V959.2h1V954.5h1V954.9h1V956.2h1V957h1V956.6h1V962.2h1V953.2h1V951h1V955.3h1V957.9h1V950.1h1V951.9h1V953.6h1V944.5h1V953.6h1V950.6h1V951.9h1V954.5h1V947.1h1V951.9h1V945.4h1V950.6h1V955.3h1V948.4h1V948h2V947.1h1V953.6h1V950.1h1V967h1V949.3h1V948h1V957.5h1V948.4h1V947.5h1V949.3h1V951h1V956.2h1V949.7h1V954.5h1V959.6h1V961.4h1V960.9h1V963.5h1V960.9h1V967h1V966.6h1V969.6h1V960.5h1V967.9h1V970h1V961.4h1V963.1h1V970.4h1V970.9h1V970h1V965.7h1V969.1h1V971.3h1V972.6h1V967.9h1V973h1V977.8h1V973.9h1V974.3h1V964.8h1V976.9h1V980.8h1V978.2h1V983.8h1V987.7h1V986.9h1V986.4h1V991.2h1V992.9h1V996.4h1V995.1h1V994.7h1V996.8h1V993.4h1V994.7h1V994.2h1V993.4h1V996.8h1V994.2h2V993.8h1V995.5h1V998.5h1V994.2h1V996.4h1V993.4h1V995.1h1V991.2h1V993.8h1V996h1V993.4h1V995.5h1V996.8h1V994.2h2V996h2V994.7h1V996.4h1V994.2h1V994.7h1V997.2h1V995.1h1V996.8h1V996h2V997.2h1V994.7h1V995.5h1V996h1V996.8h1V993.8h1V995.1h1V994.7h1V996.4h1V998.1h1V996.4h1V993.4h1V997.2h1V996h1V994.7h1V996h2V994.7h2V994.2h1V993.8h1V997.7h1V991.6h1V996.4h1V992.9h1V994.2h1V991.2h1V995.1h1V996.4h1V994.2h1V996.4h1V995.1h1V992.9h1V994.2h1V996.4h1V995.5h1V996.4h1V991.2h1V993.8h2V994.2h1V995.1h2V991.6h1V992.5h1V994.2h1V994.7h1V993.4h1V995.1h1V992.9h2V993.8h1V997.2h1V994.7h2V992.9h1V993.8h1V992.9h1V995.1h1V994.7h1V992.1h1V992.9h1V993.8h1V992.1h1V995.1h1V993.8h1V991.6h1V992.9h1V991.6h1V993.8h1V992.1h1V992.5h1V991.6h1V994.2h1V992.9h1V991.2h1V992.5h1V996.4h1V993.4h2V993.8h1V995.1h1V991.6h1V993.4h1V992.9h1V991.2h1V994.2h1V991.6h1V996h1V990.3h1V993.8h1V993.4h1V995.5h1V994.7h1V989.9h1V992.9h1V992.5h1V991.2h1V991.6h1V989.9h1V992.5h1V992.1h2V992.5h1V991.6h2V994.7h1V990.8h1V991.6h1V993.4h1V991.6h1V989h1V989.5h1V991.2h1V993.4h1V989.5h2V991.2h1V990.8h2V984.7h1V988.2h1V986.9h1V988.6h1V989.9h1V987.3h1V988.2h1V989.5h1V990.8h1V988.2h1V986.4h1V986.9h1V987.7h1V984.7h1V986.4h1V989h1V981.3h1V985.1h1V982.5h1V984.7h1V985.1h1V983.4h1V981.7h2V979.1h1V983h1V980.8h1V980.4h1V984.3h1V979.1h1V976.1h1V974.3h1V980.4h1V975.6h1V979.5h1V980h1V977.4h1V976.5h1V978.7h1V980h1V974.8h1V980h1V983h1V980h1V981.7h1V979.1h1V980.4h1V983.8h1V983.4h1V983.8h1V984.7h1V983h1V982.5h1V987.3h1V981.3h1V984.7h1V983.8h1V989.9h1V993.8h1V989.5h1V985.6h1V989.5h1V987.7h1V989.5h1V989.9h1V988.2h1V989.5h1V983.4h1V986.9h1V989.9h1V986.4h1V984.3h2V986.4h1V982.1h1V979.5h1V985.1h1V982.1h1V983h1V987.7h1V982.1h1V987.3h1V989.5h2V986.9h1V988.2h1V991.6h1V992.5h1V994.2h1V996.8h1V999.4h1V1001.1h1V1002.4h1V1002.9h2V1002.4h2V1001.6h1V1002.9h1V1003.3h1V1002.4h3V1002.9h3V1002.4h2V1003.3h2V1002.4h1V1003.3h1V1002.9h1V1003.3h1V1002.9h3V1002.4h1V1003.3h3V1002h1V1002.9h1V1002.4h2V1003.3h1V1002.9h1V1003.3h1V1002.9h2V1002.4h1V1002.9h1V1002.4h1V1002.9h1V1002h1V1003.3h2V1002h1V1003.3h3V1002.9h1V1003.3h1V1002.9h2V1002.4h1V1002.9h3V1003.3h1V1002.9h1V1003.3h1V1002.4h1V1002.9h1V1003.3h1V1002.4h1V1003.3h1V1002.9h1V1003.3h2V1002.9h1V1003.3h1V1002.9h3V1003.3h1V1002.9h3V1002.4h1V1002.9h1V1002.4h1V1003.3h1V1002.9h1V1003.3h3V1002.9h1V1003.3h2V1002.4h2V1003.3h1V1003.3Z" fill="#1466ff"/>
<path d="M771,1003.3V995.1h1V998.1h2V996.8h1V996.4h1V998.5h1V995.1h1V996.8h1V995.1h1V997.2h1V996.8h1V998.1h1V994.7h1V995.5h1V997.7h1V996.8h1V997.7h2V996.8h3V995.1h1V996.8h1V997.7h1V998.5h1V996.4h1V998.5h1V997.7h1V997.2h1V995.1h1V996.8h1V997.2h1V996.4h1V997.2h1V997.7h1V997.2h1V996h1V997.2h2V995.1h1V996.4h1V997.7h1V995.5h1V998.5h1V997.2h1V996h1V996.4h1V995.5h1V996.8h2V998.1h1V997.2h1V996.4h2V997.7h1V999h1V996.8h1V998.1h1V996.4h1V996.8h1V997.7h1V994.7h1V997.7h1V997.2h1V991.6h1V990.3h1V980.4h1V983.8h1V979.5h1V987.3h1V989.9h1V993.8h1V997.2h1V997.7h1V996.4h3V995.5h1V997.2h1V996.4h1V997.7h1V996.8h1V997.7h1V996h1V997.2h1V998.5h1V995.5h1V999h2V997.7h1V997.2h2V997.7h1V996.4h1V998.5h1V999.8h1V997.7h1V997.2h1V995.5h1V998.1h1V996.4h2V997.2h1V996.8h2V994.2h1V998.1h1V992.5h1V997.7h1V998.1h1V999h1V997.7h1V996.8h1V997.7h1V996.8h1V995.5h1V996.8h1V995.1h1V996.4h1V999h1V997.2h2V993.8h1V998.1h1V997.7h1V992.5h1V994.7h1V995.1h1V993.8h1V994.2h1V995.1h1V996h1V995.5h1V996.4h2V994.2h1V994.7h1V993.8h1V995.1h1V996.8h1V994.2h1V991.6h1V973h1V953.6h1V930.7h1V909.9h1V867.1h1V791.9h1V736.1h1V714.5h1V690.3h1V657.5h1V685.6h1V695.1h1V724.9h1V803.6h1V820h1V886.1h1V926.4h1V940.2h1V962.2h1V970.4h1V986.4h1V975.2h1V969.6h1V966.1h1V963.1h1V952.7h1V953.6h2V954.9h1V960.5h1V961.4h1V967h1V970.4h1V981.7h1V983.8h1V991.6h1V996.8h1V1000.7h1V1002.4h1V1002.9h1V1002.4h1V1002.9h3V1002.4h3V1002.9h1V1003.3h1V1002.9h2V1002h1V1002.4h2V1002.9h1V1001.6h1V1002h1V1002.9h1V1002.4h1V1002.9h1V1002.4h2V1002.9h1V1002.4h1V1003.3h1V1002.4h1V1002.9h2V1002.4h1V1002.9h2V1002.4h1V1002.9h1V1003.3h1V1002.4h1V1002.9h1V1002.4h2V1002.9h3V1003.3h1V1002.4h1V1002.9h1V1002.4h2V1002.9h1V1002h1V1002.4h1V1002.9h1V1002.4h1V1002.9h1V1003.3h1V1002.4h2V1002.9h1V1002.4h1V1002.9h1V1002.4h1V1002.9h2V1002.4h2V1002.9h1V1002h1V1002.4h1V1002.9h1V1003.3h1V1002.9h2V1002.4h3V1002.9h2V1002.4h1V1002.9h7V1002h1V1001.1h1V1002.9h6V1002h1V1003.3h1V1002h1V1002.4h1V1002h1V1002.9h1V1002h1V1002.4h3V1003.3h1V1002.9h3V1002.4h2V1002h1V1002.4h1V1002.9h1V1002.4h2V1002.9h1V1003.3h1V1002.4h1V1002.9h1V1002.4h1V1002.9h1V1002.4h2V1002.9h1V1002.4h1V1002.9h1V1003.3h1V1002.4h1V1002.9h5V1002h1V1002.9h1V1002.4h2V1003.3h1V1001.6h1V1002.9h2V1003.3h1V1002h1V1001.1h1V1002.9h1V1002h1V1002.9h2V1002.4h1V1002.9h6V1002h1V1002.4h2V1002h1V1002.9h4V1001.6h1V1002.4h1V1002.9h3V1002.4h1V1002.9h1V1002.4h3V1002h1V1002.9h1V1003.3Z" fill="rgb(255,104,76)" fill-opacity="0.280"/>
<path d="M771,1003.3V997.2h1V998.1h1V999h1V997.7h1V998.1h1V998.5h1V999.2h1V997.2h1V1000.3h1V998.1h1V996.8h1V998.3h1V999h1V997.2h1V998.8h1V998.5h1V999.8h1V999h1V998.5h1V999.2h1V999h1V997.5h1V997.7h1V998.5h1V999.2h1V999h2V998.5h1V999h1V997.9h1V997.2h1V998.3h1V999h1V998.1h1V997.9h1V997.7h1V997.5h1V997.2h1V999h1V997.2h1V998.5h1V999.6h1V999h2V998.1h1V997.7h1V998.3h1V998.1h1V997.7h1V998.1h1V998.5h1V998.1h1V997.7h1V998.5h1V997.9h1V999.4h1V998.3h1V999.4h1V996.8h1V999.6h1V999h1V996.8h1V997.7h1V997.2h1V992.5h1V990.8h1V987.1h1V985.1h1V981.3h1V991.6h1V992.9h1V995.3h1V998.5h1V998.1h2V997.2h2V997.7h1V999h1V997.5h1V998.5h1V998.1h2V999.4h1V998.1h1V999.8h1V998.8h1V999.4h1V999h1V998.5h1V998.1h2V998.5h1V996.8h1V999.4h1V999.8h1V998.3h1V997.7h1V996.8h1V998.1h1V997.2h1V996.8h1V997.7h2V998.5h1V998.1h1V998.5h1V999h2V998.5h1V999.4h1V998.5h1V997.5h1V998.5h1V997.9h1V996.8h1V997.7h1V999h1V997.2h1V999.6h1V999.4h1V998.5h1V996h1V999.4h1V998.8h1V996h1V995.5h1V996.2h1V995.1h1V997.5h1V996.4h1V996.8h1V995.7h1V996.8h1V996.6h1V995.5h1V996h1V996.6h1V996h1V996.8h1V995.5h1V992.5h1V978.7h1V957.5h1V939.1h1V921.2h1V882.3h1V820.4h1V762.5h1V729h1V692h1V675.6h1V689.2h1V713.2h1V742.8h1V803.6h1V852.4h1V900h1V938.5h1V951.6h1V968.3h1V984.3h1V991.6h1V980.4h1V975.8h1V973h1V967.4h1V958.8h2V954.5h1V955.3h1V964.4h1V964h1V971.7h1V976.7h1V981.7h1V989h1V994.4h1V997.2h1V1003.1h1V1002.4h1V1002.9h1V1003.3h2V1003.1h1V1002.9h2V1002.7h1V1002.4h1V1002.9h1V1003.3h2V1003.1h1V1002.9h2V1002.4h1V1003.3h1V1003.1h1V1002.9h1V1003.1h1V1002.9h2V1003.3h2V1002.9h2V1003.3h1V1002.9h1V1003.3h2V1002.4h1V1002.9h3V1003.1h1V1003.3h2V1003.1h1V1002.9h2V1003.3h1V1002.9h1V1003.3h2V1002.7h1V1002.9h1V1002.4h1V1002.7h1V1002.9h1V1002.7h1V1002.9h2V1003.1h1V1003.3h2V1003.1h1V1002.9h1V1003.3h1V1002.9h1V1003.3h1V1003.1h1V1002.9h1V1003.1h1V1002.9h1V1002.4h1V1002.9h1V1003.3h1V1002.9h2V1003.3h1V1002.9h2V1002.7h1V1002.9h2V1003.3h2V1002.7h1V1002.9h1V1003.3h1V1003.1h1V1002.9h1V1003.3h2V1002.9h5V1003.3h2V1002.9h1V1003.1h1V1002.4h1V1003.3h1V1002.9h2V1003.1h1V1003.3h1V1002.9h1V1002.7h1V1002.4h1V1003.1h1V1003.3h1V1002.9h2V1003.3h1V1003.1h1V1002.9h4V1003.1h1V1002.9h1V1003.3h2V1002.4h1V1003.3h1V1002.9h2V1003.3h1V1002.9h4V1003.3h1V1002.9h2V1003.3h2V1002.9h2V1003.3h2V1002.9h1V1002.7h1V1003.3h1V1002.9h1V1003.3h3V1002.9h1V1002.2h1V1003.3h1V1002.9h2V1003.3h1V1002.9h1V1003.3h2V1002.9h2V1003.1h1V1002.9h1V1003.3h1V1003.1h1V1002.4h1V1002.7h1V1003.3h1V1002.9h3V1003.1h1V1002.9h5V1003.3h1V1002.9h1V1003.1h1V1002.9h3V1003.3Z" fill="rgb(255,104,76)" fill-opacity="0.333"/>
<path d="M771,1003.3V997.7h1V998.5h1V999h1V998.1h1V999.8h1V1000.7h1V1000.3h1V997.7h1V1000.3h1V998.5h1V998.1h1V1000.3h2V999.4h1V1000.3h2V1000.7h1V999.4h1V999.8h1V1000.3h2V997.7h1V999.8h1V999h1V1000.3h1V999.8h1V1000.7h1V999.4h2V1000.7h1V999.8h1V998.5h1V999.4h1V998.5h1V1000.3h1V999.4h1V998.5h1V998.1h1V999.8h1V999h1V999.4h1V999.8h1V999h1V1000.3h1V999h1V998.1h1V1000.3h1V999.8h1V997.7h1V1000.3h1V998.5h1V999h1V999.8h1V999.4h1V998.5h1V999.8h1V999.4h1V1000.3h1V999.4h1V1001.6h1V999h2V999.4h1V998.5h1V996h1V993.4h1V989.5h1V988.6h1V986.4h1V995.5h2V996.4h1V998.5h2V1000.3h1V998.1h1V999h1V999.8h2V1000.3h1V999.4h2V1000.3h1V999.4h2V999.8h1V1000.3h1V999.4h3V998.1h1V999h2V998.1h1V1000.7h2V999.8h1V998.1h2V999h1V997.2h1V996.8h1V999h1V1000.7h1V999.4h1V1001.1h1V999.4h1V999.8h1V999.4h1V999h1V999.8h1V1000.7h1V999h1V999.4h1V1000.7h1V998.5h1V1000.7h1V1001.1h1V999.4h1V1000.7h1V1000.3h2V1000.7h1V1000.3h1V999.4h1V996.8h1V998.1h1V997.2h1V996.4h1V1000.3h1V998.5h2V996.4h1V997.2h1V998.1h1V998.5h1V998.1h1V997.7h1V996.8h1V999.4h1V998.5h1V994.7h1V985.6h1V968.7h1V948.8h1V930.7h1V893.5h1V838.2h1V781.5h1V735.7h1V706.7h1V720.6h1V693.3h1V731.8h1V774.6h1V822.2h1V857.6h1V919.4h1V941h1V963.1h1V973h1V990.3h1V994.2h1V984.3h1V983h1V973.5h1V972.2h1V967.9h1V964h1V960.9h1V955.7h1V964.8h1V970.9h1V972.6h1V979.5h1V985.1h1V992.5h1V995.5h1V997.2h1V1003.3h6V1002.9h1V1003.3h2V1002.9h1V1003.3h11V1002.9h1V1003.3h11V1002.9h1V1003.3h8V1002.9h1V1003.3h2V1002.9h1V1003.3h3V1002.9h1V1003.3h9V1002.9h1V1003.3h5V1002.9h2V1003.3h6V1002.9h1V1003.3h13V1002.9h2V1003.3h3V1002.9h1V1003.3h1V1002.9h1V1003.3h6V1002.9h1V1003.3h4V1002.9h1V1003.3h3V1002.9h1V1003.3h1V1002.9h1V1003.3h6V1002.9h1V1003.3h11V1002.9h1V1003.3h6V1002.9h1V1003.3h4V1002.9h1V1003.3h1V1002.9h1V1003.3h11V1002.9h1V1003.3h2V1002.9h1V1003.3h6V1002.9h1V1003.3h4V1002.9h1V1003.3h2V1003.3Z" fill="rgb(255,104,76)" fill-opacity="0.375"/>
<path d="M775.3,572.0V1002.8M780.8,572.0V1002.8M786.3,572.0V1002.8M791.8,572.0V1002.8M797.3,572.0V1002.8M802.8,572.0V1002.8M808.3,572.0V1002.8M813.8,572.0V1002.8M819.3,572.0V1002.8M824.8,572.0V1002.8M830.3,572.0V1002.8M835.8,572.0V1002.8M841.3,572.0V1002.8M846.8,572.0V1002.8M852.3,572.0V1002.8M857.8,572.0V1002.8M863.3,572.0V1002.8M868.8,572.0V1002.8M874.3,572.0V1002.8M879.8,572.0V1002.8M885.3,572.0V1002.8M890.8,572.0V1002.8M896.3,572.0V1002.8M901.8,572.0V1002.8M907.3,572.0V1002.8M912.8,572.0V1002.8M918.3,572.0V1002.8M923.8,572.0V1002.8M929.3,572.0V1002.8M934.8,572.0V1002.8M940.3,572.0V1002.8M945.8,572.0V1002.8M951.3,572.0V1002.8M956.8,572.0V1002.8M962.3,572.0V1002.8M967.8,572.0V1002.8M973.3,572.0V1002.8M978.8,572.0V1002.8M984.3,572.0V1002.8M989.8,572.0V1002.8M995.3,572.0V1002.8M1000.8,572.0V1002.8M1006.3,572.0V1002.8M1011.8,572.0V1002.8M1017.3,572.0V1002.8M1022.8,572.0V1002.8M1028.3,572.0V1002.8M1033.8,572.0V1002.8M1039.3,572.0V1002.8M1044.8,572.0V1002.8M1050.3,572.0V1002.8M1055.8,572.0V1002.8M1061.3,572.0V1002.8M1066.8,572.0V1002.8M1072.3,572.0V1002.8M1077.8,572.0V1002.8M1083.3,572.0V1002.8M1088.8,572.0V1002.8M1094.3,572.0V1002.8M1099.8,572.0V1002.8M1105.3,572.0V1002.8M1110.8,572.0V1002.8M1116.3,572.0V1002.8M1121.8,572.0V1002.8M1127.3,572.0V1002.8M1132.8,572.0V1002.8M1138.3,572.0V1002.8M1143.8,572.0V1002.8M1149.3,572.0V1002.8M1154.8,572.0V1002.8M1160.3,572.0V1002.8M1165.8,572.0V1002.8M1171.3,572.0V1002.8M1176.8,572.0V1002.8M1182.3,572.0V1002.8M1187.8,572.0V1002.8M1193.3,572.0V1002.8M1198.8,572.0V1002.8M1204.3,572.0V1002.8M1209.8,572.0V1002.8M1215.3,572.0V1002.8M1220.8,572.0V1002.8M1226.3,572.0V1002.8M1231.8,572.0V1002.8M1237.3,572.0V1002.8M1242.8,572.0V1002.8M1248.3,572.0V1002.8M1253.8,572.0V1002.8M1259.3,572.0V1002.8M1264.8,572.0V1002.8M1270.3,572.0V1002.8M1275.8,572.0V1002.8M1281.3,572.0V1002.8M1286.8,572.0V1002.8M1292.3,572.0V1002.8M1297.8,572.0V1002.8M1303.3,572.0V1002.8M1308.8,572.0V1002.8M1314.3,572.0V1002.8M1319.8,572.0V1002.8M1325.3,572.0V1002.8" stroke="#fff" stroke-opacity="0.085" stroke-width="1" fill="none"/>
<line x1="1300.00" y1="571.0" x2="1300.00" y2="1003.3" stroke="#ff9a9a" stroke-width="2.0"/>
<path d="M742.5,571.0H1331.0V1003.3" stroke="#8c8c8c" stroke-width="2.0" fill="none" stroke-linejoin="round"/>
<path d="M742.5,571.0V1008.6M734.7,1003.3H742.5M734.7,916.8H742.5M734.7,830.4H742.5M734.7,743.9H742.5M734.7,657.5H742.5M734.7,571.0H742.5" stroke="#5a5a5a" stroke-width="1.4" fill="none"/>
<path d="M742.5,1003.3H1331.0M889.6,1003.3V1008.6M1036.8,1003.3V1008.6M1183.9,1003.3V1008.6M1331.0,1003.3V1008.6" stroke="#606060" stroke-width="1.5" fill="none"/>
<text transform="translate(734.40,925.34) scale(0.8000,1)" font-family="'Liberation Serif', 'DejaVu Serif', serif" font-size="25.80" text-anchor="end" letter-spacing="3.75" fill="#111" stroke="#111" stroke-width="0.12">200</text>
<text transform="translate(734.40,838.88) scale(0.8000,1)" font-family="'Liberation Serif', 'DejaVu Serif', serif" font-size="25.80" text-anchor="end" letter-spacing="3.75" fill="#111" stroke="#111" stroke-width="0.12">400</text>
<text transform="translate(734.40,752.42) scale(0.8000,1)" font-family="'Liberation Serif', 'DejaVu Serif', serif" font-size="25.80" text-anchor="end" letter-spacing="3.75" fill="#111" stroke="#111" stroke-width="0.12">600</text>
<text transform="translate(734.40,665.96) scale(0.8000,1)" font-family="'Liberation Serif', 'DejaVu Serif', serif" font-size="25.80" text-anchor="end" letter-spacing="3.75" fill="#111" stroke="#111" stroke-width="0.12">800</text>
<text transform="translate(734.40,578.00) scale(0.8000,1)" font-family="'Liberation Serif', 'DejaVu Serif', serif" font-size="25.80" text-anchor="end" letter-spacing="3.75" fill="#111" stroke="#111" stroke-width="0.12">1,000</text>
<text transform="translate(740.90,1028.30) scale(0.8000,1)" font-family="'Liberation Serif', 'DejaVu Serif', serif" font-size="25.80" text-anchor="middle" letter-spacing="3.38" fill="#111" stroke="#111" stroke-width="0.12">0</text>
<text transform="translate(890.00,1028.30) scale(0.8000,1)" font-family="'Liberation Serif', 'DejaVu Serif', serif" font-size="25.80" text-anchor="middle" letter-spacing="3.38" fill="#111" stroke="#111" stroke-width="0.12">5</text>
<text transform="translate(1037.40,1028.30) scale(0.8000,1)" font-family="'Liberation Serif', 'DejaVu Serif', serif" font-size="25.80" text-anchor="middle" letter-spacing="3.38" fill="#111" stroke="#111" stroke-width="0.12">10</text>
<text transform="translate(1187.00,1028.30) scale(0.8000,1)" font-family="'Liberation Serif', 'DejaVu Serif', serif" font-size="25.80" text-anchor="middle" letter-spacing="3.38" fill="#111" stroke="#111" stroke-width="0.12">15</text>
<text transform="translate(1332.80,1028.30) scale(0.8000,1)" font-family="'Liberation Serif', 'DejaVu Serif', serif" font-size="25.80" text-anchor="middle" letter-spacing="3.38" fill="#111" stroke="#111" stroke-width="0.12">20</text>
<text transform="translate(1016.85,550.20) scale(0.9000,1)" font-family="'Liberation Serif', 'DejaVu Serif', serif" font-size="22.50" text-anchor="middle" letter-spacing="2.78" fill="#111" stroke="#111" stroke-width="0.3">Pulse Energy Spectrum</text>
<text class="panel-label" font-family="'Liberation Serif', 'DejaVu Serif', serif" font-size="61" fill="#000"><tspan x="1210.19" y="629.60" textLength="13.81" lengthAdjust="spacingAndGlyphs">(</tspan><tspan x="1233.09" y="634.60" textLength="25.62" lengthAdjust="spacingAndGlyphs">d</tspan><tspan x="1268.59" y="629.60" textLength="13.81" lengthAdjust="spacingAndGlyphs">)</tspan></text>
<text transform="translate(919.00,1042.00) scale(1.0000,1)" font-family="'Liberation Sans', 'DejaVu Sans', sans-serif" font-size="10.78" text-anchor="start" fill="#111" stroke="#111" stroke-width="0.42">Channel = 18.93 keV | Count = 3 | FWHM = 0.1%</text>
<text transform="translate(687.1,787.0) rotate(-90)" font-family="'Liberation Sans', 'DejaVu Sans', sans-serif" font-size="10.95" text-anchor="middle" fill="#111" stroke="#111" stroke-width="0.4">Counts</text>
</g>
</svg>
</body>
</html>
